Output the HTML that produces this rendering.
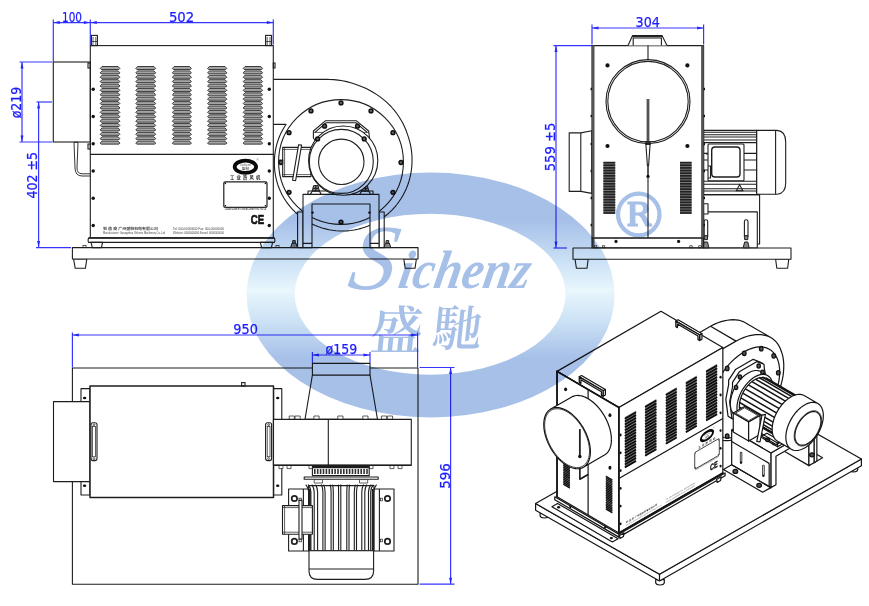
<!DOCTYPE html>
<html lang="zh"><head><meta charset="utf-8"><title>Sichenz 盛馳 工业热风机 外形尺寸图</title>
<style>
html,body{margin:0;padding:0;background:#fff;}
body{width:869px;height:606px;overflow:hidden;}
svg{display:block;}
.k{fill:none;stroke:#1e1e1e;stroke-width:1.1;}
.k2{fill:none;stroke:#1e1e1e;stroke-width:1.5;}
.kt{fill:none;stroke:#1e1e1e;stroke-width:.7;}
.kw{fill:#fff;stroke:#1e1e1e;stroke-width:1.1;stroke-linejoin:round;}
.kwt{fill:#fff;stroke:#1e1e1e;stroke-width:.7;stroke-linejoin:round;}
.d{fill:#111;stroke:none;}
.kg{fill:#888;stroke:#1e1e1e;stroke-width:1;stroke-linejoin:round;}
.ki{fill:none;stroke:#141414;stroke-width:1.2;stroke-linejoin:round;}
.kwi{fill:#fff;stroke:#141414;stroke-width:1.2;stroke-linejoin:round;}
.ki2{fill:none;stroke:#141414;stroke-width:1.7;stroke-linecap:round;}
.kf{fill:#858585;stroke:none;}
.kf2{fill:#777;stroke:none;}
.kit{fill:none;stroke:#141414;stroke-width:.8;}
.kbi{fill:#555;stroke:#111;stroke-width:1.3;}
.kb{fill:#666;stroke:#111;stroke-width:1.5;}
.g{fill:#a4a4a4;stroke:#222;stroke-width:.85;}
.b{fill:none;stroke:#3636ff;stroke-width:1.2;}
.ba{fill:#2626ff;stroke:none;}
.t{font-family:"DejaVu Sans","Liberation Sans",sans-serif;font-size:14.2px;fill:#1c1cff;stroke:#1c1cff;stroke-width:.25px;text-anchor:middle;}
.wm{fill:#a7c0e8;}
</style></head>
<body>
<svg width="869" height="606" viewBox="0 0 869 606">
<rect width="869" height="606" fill="#fff"/>
<path class="b" d="M53.3 19.5L53.3 61.5"/>
<path class="b" d="M90.3 19.5L90.3 45"/>
<path class="b" d="M273.3 19.5L273.3 44.5"/>
<path class="b" d="M53.3 22.6L90.3 22.6"/>
<path class="ba" d="M53.3 22.6L59.8 21.1L59.8 24.1Z"/>
<path class="ba" d="M90.3 22.6L83.8 24.1L83.8 21.1Z"/>
<path class="b" d="M90.3 22.6L273.3 22.6"/>
<path class="ba" d="M90.3 22.6L96.8 21.1L96.8 24.1Z"/>
<path class="ba" d="M273.3 22.6L266.8 24.1L266.8 21.1Z"/>
<text class="t" x="72" y="21.8" textLength="20" lengthAdjust="spacingAndGlyphs">100</text>
<text class="t" x="181.6" y="21.8" textLength="25.4" lengthAdjust="spacingAndGlyphs">502</text>
<path class="b" d="M19.5 62L52.4 62"/>
<path class="b" d="M19.5 142L52.4 142"/>
<path class="b" d="M22 62L22 142"/>
<path class="ba" d="M22 62L23.5 68.5L20.5 68.5Z"/>
<path class="ba" d="M22 142L20.5 135.5L23.5 135.5Z"/>
<text class="t" x="20.6" y="102.5" transform="rotate(-90 20.6 102.5)" textLength="31.6" lengthAdjust="spacingAndGlyphs">ø219</text>
<path class="b" d="M36.5 102L52 102"/>
<path class="b" d="M36 247.6L71 247.6"/>
<path class="b" d="M38.6 102L38.6 247.6"/>
<path class="ba" d="M38.6 102L40.1 108.5L37.1 108.5Z"/>
<path class="ba" d="M38.6 247.6L37.1 241.1L40.1 241.1Z"/>
<text class="t" x="37.1" y="175.2" transform="rotate(-90 37.1 175.2)" textLength="46.5" lengthAdjust="spacingAndGlyphs">402 ±5</text>
<path class="kw" d="M73.6 259L86.8 259L85.4 268.3L75.2 268.3Z"/>
<path class="kw" d="M403.8 259L416.4 259L415 268.3L405.2 268.3Z"/>
<rect class="kw" x="72.4" y="247.6" width="345.6" height="11.4"/>
<path class="kw" d="M273.3 124.4L286 124.4L285.79 124.76L283.91 127.7L282.2 130.73L280.64 133.85L279.25 137.05L278.03 140.32L276.98 143.64L276.11 147.02L275.41 150.44L274.9 153.88L274.56 157.35L274.41 160.84L274.39 164.33L274.52 167.82L274.84 171.3L275.34 174.76L276.02 178.2L276.88 181.6L277.92 184.96L279.13 188.26L280.52 191.5L282.07 194.66L283.8 197.74L285.68 200.74L287.72 203.63L289.91 206.41L292.25 209.08L294.72 211.62L297.33 214.04L300.07 216.32L302.92 218.45L305.89 220.44L308.96 222.26L312.12 223.93L315.37 225.43L318.7 226.76L322.1 227.92L325.56 228.89L329.06 229.69L332.61 230.3L336.19 230.73L339.8 230.96L343.41 231L347.02 230.85L350.63 230.5L354.21 229.97L357.77 229.25L361.28 228.35L364.75 227.26L368.16 225.99L371.5 224.54L374.76 222.91L377.94 221.12L381.02 219.16L384 217.04L386.87 214.76L389.61 212.34L392.23 209.77L394.71 207.07L397.05 204.23L399.24 201.28L401.27 198.21L403.14 195.04L404.84 191.77L406.38 188.41L407.73 184.98L408.91 181.47L409.9 177.91L410.7 174.29L411.32 170.63L411.74 166.95L411.97 163.24L412.04 159.52L411.93 155.79L411.63 152.07L411.14 148.37L410.45 144.68L409.56 141.04L408.49 137.44L407.28 133.87L406 130.3L404.52 126.79L402.86 123.35L401.01 119.98L398.97 116.71L396.76 113.53L394.37 110.46L391.83 107.49L389.14 104.63L386.28 101.91L383.27 99.33L380.12 96.9L376.82 94.63L373.44 92.43L369.93 90.41L366.29 88.56L362.54 86.89L358.68 85.42L354.74 84.07L350.73 82.76L346.62 81.65L342.42 80.76L338.14 80.09L333.8 79.65L329.4 79.45L328 79.4L273.3 79.4"/>
<circle class="k" cx="341" cy="162" r="62.4"/>
<circle class="kb" cx="401" cy="162.5" r="1.9"/>
<circle class="kb" cx="392.96" cy="192.3" r="1.9"/>
<circle class="kb" cx="341" cy="222.1" r="1.9"/>
<circle class="kb" cx="289.04" cy="192.3" r="1.9"/>
<circle class="kb" cx="281" cy="162.5" r="1.9"/>
<circle class="kb" cx="289.04" cy="132.7" r="1.9"/>
<circle class="kb" cx="311" cy="110.88" r="1.9"/>
<circle class="kb" cx="341" cy="102.9" r="1.9"/>
<circle class="kb" cx="371" cy="110.88" r="1.9"/>
<circle class="kb" cx="392.96" cy="132.7" r="1.9"/>
<rect class="kw" x="297.6" y="212" width="5.4" height="35.6"/>
<rect class="kw" x="379" y="212" width="5.2" height="35.6"/>
<path class="kw" d="M303 247.6V194.4H379V247.6H370V204H312V247.6Z"/>
<path class="k" d="M303 243.4H312M370 243.4H379"/>
<circle class="d" cx="312.6" cy="212.6" r="1.2"/>
<circle class="d" cx="369.4" cy="212.6" r="1.2"/>
<rect class="kw" x="308" y="191" width="65" height="3.4"/>
<path class="kg" d="M290.6 247.6L292 243.2L296 243.2L297.4 247.6Z"/>
<rect class="kg" x="292.7" y="240.6" width="2.6" height="2.6"/>
<path class="kg" d="M384 247.6L385.4 243.2L389.4 243.2L390.8 247.6Z"/>
<rect class="kg" x="386.1" y="240.6" width="2.6" height="2.6"/>
<path class="kg" d="M312.2 191L313.6 185.6L318 185.6L319.4 191Z"/>
<path class="k" d="M313.2 188.4L318.4 188.4"/>
<path class="k" d="M315.8 185.6L315.8 191"/>
<path class="k" d="M310.3 194.4L312.3 191L319.3 191L321.3 194.4"/>
<path class="kg" d="M361.6 191L363 185.6L367.4 185.6L368.8 191Z"/>
<path class="k" d="M362.6 188.4L367.8 188.4"/>
<path class="k" d="M365.2 185.6L365.2 191"/>
<path class="k" d="M359.7 194.4L361.7 191L368.7 191L370.7 194.4"/>
<rect class="kw" x="282.7" y="147.4" width="28.3" height="29.2"/>
<path class="kt" d="M284.6 147.4L284.6 176.6"/>
<path class="kt" d="M282.7 149.4L311 149.4"/>
<path class="kt" d="M282.7 174.6L311 174.6"/>
<path class="kw" d="M298.6 144.7L301.6 145.1L295.6 180.6L292.6 180.2Z"/>
<rect class="k" x="279.4" y="160.2" width="3.3" height="3.6"/>
<path class="kw" d="M313.4 138L313.4 131L325.3 120.8L356.5 120.8L368.7 131L369.5 138L365 143L317 143Z"/>
<path class="k" d="M315 132.4L326 122.8L356 122.8L367.2 132.4"/>
<path class="kt" d="M313.4 132.4L369 132.4"/>
<circle class="kw" cx="343.2" cy="160.6" r="34.6"/>
<circle class="k" cx="341.3" cy="161.4" r="32"/>
<circle class="k" cx="341.3" cy="161.8" r="22.7"/>
<circle class="kb" cx="324.6" cy="126.2" r="1.9"/>
<circle class="kb" cx="357.5" cy="126.2" r="1.9"/>
<circle class="kb" cx="317.6" cy="138.9" r="1.9"/>
<circle class="kb" cx="364.2" cy="138.9" r="1.9"/>
<rect class="k" x="90.3" y="45.6" width="183" height="192.4"/>
<path class="k" d="M90.3 154.4L273.3 154.4"/>
<rect class="k" x="91.4" y="35.4" width="6" height="10.2"/>
<path class="kt" d="M93 37L93 45.6"/>
<path class="kt" d="M95.8 37L95.8 45.6"/>
<path class="kt" d="M91.4 41.5L97.4 41.5"/>
<rect class="k" x="265.6" y="35.4" width="6" height="10.2"/>
<path class="kt" d="M267.2 37L267.2 45.6"/>
<path class="kt" d="M270 37L270 45.6"/>
<path class="kt" d="M265.6 41.5L271.6 41.5"/>
<rect class="k" x="53.3" y="62" width="37" height="80"/>
<rect class="k" x="88" y="63" width="2.3" height="5"/>
<rect class="k" x="88" y="144" width="2.3" height="5"/>
<rect class="k" x="273.3" y="63" width="1.7" height="5"/>
<path class="k" d="M74 142.3L75 168Q75.3 176 82 176H90.3M78 142.3L77 168Q77 173.6 82 173.8H90.3M74 142.3H78" style="stroke-width:.9"/>
<path class="g" d="M102 66.5L118.1 66.5L119.9 68.5L118.9 69.5L101.2 69.5L100.2 68.5Z"/>
<path class="g" d="M102 70.89L118.1 70.89L119.9 72.89L118.9 73.89L101.2 73.89L100.2 72.89Z"/>
<path class="g" d="M102 75.28L118.1 75.28L119.9 77.28L118.9 78.28L101.2 78.28L100.2 77.28Z"/>
<path class="g" d="M102 79.67L118.1 79.67L119.9 81.67L118.9 82.67L101.2 82.67L100.2 81.67Z"/>
<path class="g" d="M102 84.06L118.1 84.06L119.9 86.06L118.9 87.06L101.2 87.06L100.2 86.06Z"/>
<path class="g" d="M102 88.45L118.1 88.45L119.9 90.45L118.9 91.45L101.2 91.45L100.2 90.45Z"/>
<path class="g" d="M102 92.84L118.1 92.84L119.9 94.84L118.9 95.84L101.2 95.84L100.2 94.84Z"/>
<path class="g" d="M102 97.23L118.1 97.23L119.9 99.23L118.9 100.23L101.2 100.23L100.2 99.23Z"/>
<path class="g" d="M102 101.62L118.1 101.62L119.9 103.62L118.9 104.62L101.2 104.62L100.2 103.62Z"/>
<path class="g" d="M102 106.01L118.1 106.01L119.9 108.01L118.9 109.01L101.2 109.01L100.2 108.01Z"/>
<path class="g" d="M102 110.4L118.1 110.4L119.9 112.4L118.9 113.4L101.2 113.4L100.2 112.4Z"/>
<path class="g" d="M102 114.79L118.1 114.79L119.9 116.79L118.9 117.79L101.2 117.79L100.2 116.79Z"/>
<path class="g" d="M102 119.18L118.1 119.18L119.9 121.18L118.9 122.18L101.2 122.18L100.2 121.18Z"/>
<path class="g" d="M102 123.57L118.1 123.57L119.9 125.57L118.9 126.57L101.2 126.57L100.2 125.57Z"/>
<path class="g" d="M102 127.96L118.1 127.96L119.9 129.96L118.9 130.96L101.2 130.96L100.2 129.96Z"/>
<path class="g" d="M102 132.35L118.1 132.35L119.9 134.35L118.9 135.35L101.2 135.35L100.2 134.35Z"/>
<path class="g" d="M102 136.74L118.1 136.74L119.9 138.74L118.9 139.74L101.2 139.74L100.2 138.74Z"/>
<path class="g" d="M102 141.13L118.1 141.13L119.9 143.13L118.9 144.13L101.2 144.13L100.2 143.13Z"/>
<path class="g" d="M137.6 66.5L153.9 66.5L155.7 68.5L154.7 69.5L136.8 69.5L135.8 68.5Z"/>
<path class="g" d="M137.6 70.89L153.9 70.89L155.7 72.89L154.7 73.89L136.8 73.89L135.8 72.89Z"/>
<path class="g" d="M137.6 75.28L153.9 75.28L155.7 77.28L154.7 78.28L136.8 78.28L135.8 77.28Z"/>
<path class="g" d="M137.6 79.67L153.9 79.67L155.7 81.67L154.7 82.67L136.8 82.67L135.8 81.67Z"/>
<path class="g" d="M137.6 84.06L153.9 84.06L155.7 86.06L154.7 87.06L136.8 87.06L135.8 86.06Z"/>
<path class="g" d="M137.6 88.45L153.9 88.45L155.7 90.45L154.7 91.45L136.8 91.45L135.8 90.45Z"/>
<path class="g" d="M137.6 92.84L153.9 92.84L155.7 94.84L154.7 95.84L136.8 95.84L135.8 94.84Z"/>
<path class="g" d="M137.6 97.23L153.9 97.23L155.7 99.23L154.7 100.23L136.8 100.23L135.8 99.23Z"/>
<path class="g" d="M137.6 101.62L153.9 101.62L155.7 103.62L154.7 104.62L136.8 104.62L135.8 103.62Z"/>
<path class="g" d="M137.6 106.01L153.9 106.01L155.7 108.01L154.7 109.01L136.8 109.01L135.8 108.01Z"/>
<path class="g" d="M137.6 110.4L153.9 110.4L155.7 112.4L154.7 113.4L136.8 113.4L135.8 112.4Z"/>
<path class="g" d="M137.6 114.79L153.9 114.79L155.7 116.79L154.7 117.79L136.8 117.79L135.8 116.79Z"/>
<path class="g" d="M137.6 119.18L153.9 119.18L155.7 121.18L154.7 122.18L136.8 122.18L135.8 121.18Z"/>
<path class="g" d="M137.6 123.57L153.9 123.57L155.7 125.57L154.7 126.57L136.8 126.57L135.8 125.57Z"/>
<path class="g" d="M137.6 127.96L153.9 127.96L155.7 129.96L154.7 130.96L136.8 130.96L135.8 129.96Z"/>
<path class="g" d="M137.6 132.35L153.9 132.35L155.7 134.35L154.7 135.35L136.8 135.35L135.8 134.35Z"/>
<path class="g" d="M137.6 136.74L153.9 136.74L155.7 138.74L154.7 139.74L136.8 139.74L135.8 138.74Z"/>
<path class="g" d="M137.6 141.13L153.9 141.13L155.7 143.13L154.7 144.13L136.8 144.13L135.8 143.13Z"/>
<path class="g" d="M174.2 66.5L189.6 66.5L191.4 68.5L190.4 69.5L173.4 69.5L172.4 68.5Z"/>
<path class="g" d="M174.2 70.89L189.6 70.89L191.4 72.89L190.4 73.89L173.4 73.89L172.4 72.89Z"/>
<path class="g" d="M174.2 75.28L189.6 75.28L191.4 77.28L190.4 78.28L173.4 78.28L172.4 77.28Z"/>
<path class="g" d="M174.2 79.67L189.6 79.67L191.4 81.67L190.4 82.67L173.4 82.67L172.4 81.67Z"/>
<path class="g" d="M174.2 84.06L189.6 84.06L191.4 86.06L190.4 87.06L173.4 87.06L172.4 86.06Z"/>
<path class="g" d="M174.2 88.45L189.6 88.45L191.4 90.45L190.4 91.45L173.4 91.45L172.4 90.45Z"/>
<path class="g" d="M174.2 92.84L189.6 92.84L191.4 94.84L190.4 95.84L173.4 95.84L172.4 94.84Z"/>
<path class="g" d="M174.2 97.23L189.6 97.23L191.4 99.23L190.4 100.23L173.4 100.23L172.4 99.23Z"/>
<path class="g" d="M174.2 101.62L189.6 101.62L191.4 103.62L190.4 104.62L173.4 104.62L172.4 103.62Z"/>
<path class="g" d="M174.2 106.01L189.6 106.01L191.4 108.01L190.4 109.01L173.4 109.01L172.4 108.01Z"/>
<path class="g" d="M174.2 110.4L189.6 110.4L191.4 112.4L190.4 113.4L173.4 113.4L172.4 112.4Z"/>
<path class="g" d="M174.2 114.79L189.6 114.79L191.4 116.79L190.4 117.79L173.4 117.79L172.4 116.79Z"/>
<path class="g" d="M174.2 119.18L189.6 119.18L191.4 121.18L190.4 122.18L173.4 122.18L172.4 121.18Z"/>
<path class="g" d="M174.2 123.57L189.6 123.57L191.4 125.57L190.4 126.57L173.4 126.57L172.4 125.57Z"/>
<path class="g" d="M174.2 127.96L189.6 127.96L191.4 129.96L190.4 130.96L173.4 130.96L172.4 129.96Z"/>
<path class="g" d="M174.2 132.35L189.6 132.35L191.4 134.35L190.4 135.35L173.4 135.35L172.4 134.35Z"/>
<path class="g" d="M174.2 136.74L189.6 136.74L191.4 138.74L190.4 139.74L173.4 139.74L172.4 138.74Z"/>
<path class="g" d="M174.2 141.13L189.6 141.13L191.4 143.13L190.4 144.13L173.4 144.13L172.4 143.13Z"/>
<path class="g" d="M209.4 66.5L225 66.5L226.8 68.5L225.8 69.5L208.6 69.5L207.6 68.5Z"/>
<path class="g" d="M209.4 70.89L225 70.89L226.8 72.89L225.8 73.89L208.6 73.89L207.6 72.89Z"/>
<path class="g" d="M209.4 75.28L225 75.28L226.8 77.28L225.8 78.28L208.6 78.28L207.6 77.28Z"/>
<path class="g" d="M209.4 79.67L225 79.67L226.8 81.67L225.8 82.67L208.6 82.67L207.6 81.67Z"/>
<path class="g" d="M209.4 84.06L225 84.06L226.8 86.06L225.8 87.06L208.6 87.06L207.6 86.06Z"/>
<path class="g" d="M209.4 88.45L225 88.45L226.8 90.45L225.8 91.45L208.6 91.45L207.6 90.45Z"/>
<path class="g" d="M209.4 92.84L225 92.84L226.8 94.84L225.8 95.84L208.6 95.84L207.6 94.84Z"/>
<path class="g" d="M209.4 97.23L225 97.23L226.8 99.23L225.8 100.23L208.6 100.23L207.6 99.23Z"/>
<path class="g" d="M209.4 101.62L225 101.62L226.8 103.62L225.8 104.62L208.6 104.62L207.6 103.62Z"/>
<path class="g" d="M209.4 106.01L225 106.01L226.8 108.01L225.8 109.01L208.6 109.01L207.6 108.01Z"/>
<path class="g" d="M209.4 110.4L225 110.4L226.8 112.4L225.8 113.4L208.6 113.4L207.6 112.4Z"/>
<path class="g" d="M209.4 114.79L225 114.79L226.8 116.79L225.8 117.79L208.6 117.79L207.6 116.79Z"/>
<path class="g" d="M209.4 119.18L225 119.18L226.8 121.18L225.8 122.18L208.6 122.18L207.6 121.18Z"/>
<path class="g" d="M209.4 123.57L225 123.57L226.8 125.57L225.8 126.57L208.6 126.57L207.6 125.57Z"/>
<path class="g" d="M209.4 127.96L225 127.96L226.8 129.96L225.8 130.96L208.6 130.96L207.6 129.96Z"/>
<path class="g" d="M209.4 132.35L225 132.35L226.8 134.35L225.8 135.35L208.6 135.35L207.6 134.35Z"/>
<path class="g" d="M209.4 136.74L225 136.74L226.8 138.74L225.8 139.74L208.6 139.74L207.6 138.74Z"/>
<path class="g" d="M209.4 141.13L225 141.13L226.8 143.13L225.8 144.13L208.6 144.13L207.6 143.13Z"/>
<path class="g" d="M245 66.5L260.8 66.5L262.6 68.5L261.6 69.5L244.2 69.5L243.2 68.5Z"/>
<path class="g" d="M245 70.89L260.8 70.89L262.6 72.89L261.6 73.89L244.2 73.89L243.2 72.89Z"/>
<path class="g" d="M245 75.28L260.8 75.28L262.6 77.28L261.6 78.28L244.2 78.28L243.2 77.28Z"/>
<path class="g" d="M245 79.67L260.8 79.67L262.6 81.67L261.6 82.67L244.2 82.67L243.2 81.67Z"/>
<path class="g" d="M245 84.06L260.8 84.06L262.6 86.06L261.6 87.06L244.2 87.06L243.2 86.06Z"/>
<path class="g" d="M245 88.45L260.8 88.45L262.6 90.45L261.6 91.45L244.2 91.45L243.2 90.45Z"/>
<path class="g" d="M245 92.84L260.8 92.84L262.6 94.84L261.6 95.84L244.2 95.84L243.2 94.84Z"/>
<path class="g" d="M245 97.23L260.8 97.23L262.6 99.23L261.6 100.23L244.2 100.23L243.2 99.23Z"/>
<path class="g" d="M245 101.62L260.8 101.62L262.6 103.62L261.6 104.62L244.2 104.62L243.2 103.62Z"/>
<path class="g" d="M245 106.01L260.8 106.01L262.6 108.01L261.6 109.01L244.2 109.01L243.2 108.01Z"/>
<path class="g" d="M245 110.4L260.8 110.4L262.6 112.4L261.6 113.4L244.2 113.4L243.2 112.4Z"/>
<path class="g" d="M245 114.79L260.8 114.79L262.6 116.79L261.6 117.79L244.2 117.79L243.2 116.79Z"/>
<path class="g" d="M245 119.18L260.8 119.18L262.6 121.18L261.6 122.18L244.2 122.18L243.2 121.18Z"/>
<path class="g" d="M245 123.57L260.8 123.57L262.6 125.57L261.6 126.57L244.2 126.57L243.2 125.57Z"/>
<path class="g" d="M245 127.96L260.8 127.96L262.6 129.96L261.6 130.96L244.2 130.96L243.2 129.96Z"/>
<path class="g" d="M245 132.35L260.8 132.35L262.6 134.35L261.6 135.35L244.2 135.35L243.2 134.35Z"/>
<path class="g" d="M245 136.74L260.8 136.74L262.6 138.74L261.6 139.74L244.2 139.74L243.2 138.74Z"/>
<path class="g" d="M245 141.13L260.8 141.13L262.6 143.13L261.6 144.13L244.2 144.13L243.2 143.13Z"/>
<circle class="d" cx="93.2" cy="89.2" r="1.7"/>
<circle class="d" cx="269.3" cy="89.2" r="1.7"/>
<circle class="d" cx="93.2" cy="116.5" r="1.7"/>
<circle class="d" cx="269.3" cy="116.5" r="1.7"/>
<circle class="d" cx="93.2" cy="143.8" r="1.7"/>
<circle class="d" cx="269.3" cy="143.8" r="1.7"/>
<circle class="d" cx="93.2" cy="171" r="1.7"/>
<circle class="d" cx="269.3" cy="171" r="1.7"/>
<circle class="d" cx="93.2" cy="198.2" r="1.7"/>
<circle class="d" cx="269.3" cy="198.2" r="1.7"/>
<circle class="d" cx="93.2" cy="225.5" r="1.7"/>
<circle class="d" cx="269.3" cy="225.5" r="1.7"/>
<path class="kw" d="M88.6 238H274.4Q275.4 240.2 274.4 242.4H88.6Q87.6 240.2 88.6 238Z"/>
<path class="k2" d="M88.6 238L274.4 238"/>
<path class="kw" d="M91 242.4L102.6 242.4L101.4 247.6L92.4 247.6Z"/>
<path class="kw" d="M260.4 242.4L272.6 242.4L271.4 247.6L261.6 247.6Z"/>
<rect class="kt" x="83" y="245.4" width="3" height="2.2"/>
<rect class="kt" x="276" y="245.4" width="3" height="2.2"/>
<ellipse class="k" cx="245.4" cy="166.8" rx="10.7" ry="6.1" style="stroke-width:3.8;stroke:#0a0a0a"/>
<text x="245.4" y="165.6" text-anchor="middle" style="font-family:'Liberation Serif',serif;font-style:italic;font-size:3.6px;fill:#555">Sichenz</text>
<text x="245.4" y="169.6" text-anchor="middle" style="font-family:'Liberation Sans','Noto Sans CJK SC',sans-serif;font-size:3.6px;fill:#333">盛馳</text>
<text x="257.6" y="161" text-anchor="middle" style="font-family:'Liberation Sans',sans-serif;font-size:3px;fill:#555">®</text>
<text x="246.2" y="179.4" text-anchor="middle" style="font-family:'Liberation Sans','Noto Sans CJK SC',sans-serif;font-weight:bold;font-size:4.3px;letter-spacing:2.2px;fill:#222">工业热风机</text>
<rect class="k" x="223.8" y="181.8" width="43.2" height="25.6" rx="1.4" style="stroke-width:1.2"/>
<circle class="d" cx="225.4" cy="183.4" r="0.8"/>
<circle class="d" cx="265.4" cy="183.4" r="0.8"/>
<circle class="d" cx="225.4" cy="205.8" r="0.8"/>
<circle class="d" cx="265.4" cy="205.8" r="0.8"/>
<text x="224.8" y="210" textLength="41.6" lengthAdjust="spacingAndGlyphs" style="font-family:'Liberation Sans',sans-serif;font-weight:bold;font-size:2.6px;fill:#444">CLEAN ZONE HOT AIR BLOWER PRO. NO.CE</text>
<text x="257.4" y="223.6" text-anchor="middle" textLength="13.4" lengthAdjust="spacingAndGlyphs" style="font-family:'Liberation Sans',sans-serif;font-weight:bold;font-size:13.5px;fill:#111;stroke:#111;stroke-width:.7;stroke-linejoin:round">CE</text>
<text x="103" y="229.6" textLength="55" lengthAdjust="spacingAndGlyphs" style="font-family:'Liberation Sans','Noto Sans CJK SC',sans-serif;font-weight:bold;font-size:3.6px;fill:#444">制 造 商 广州盛馳机电有限公司</text>
<text x="103" y="233.8" textLength="62" lengthAdjust="spacingAndGlyphs" style="font-family:'Liberation Sans',sans-serif;font-size:2.6px;fill:#444">Manufacturer: Guangzhou Sichenz Machinery Co.,Ltd</text>
<text x="173" y="229.6" textLength="51" lengthAdjust="spacingAndGlyphs" style="font-family:'Liberation Sans',sans-serif;font-size:2.6px;fill:#444">Tel: 000-00000000   Fax: 000-00000000</text>
<text x="173" y="233.8" textLength="51" lengthAdjust="spacingAndGlyphs" style="font-family:'Liberation Sans',sans-serif;font-size:2.6px;fill:#444">Website: 0000000000   E-mail: 0000000000</text>
<path class="b" d="M592 24.5L592 44.5"/>
<path class="b" d="M703.6 24.5L703.6 44.5"/>
<path class="b" d="M592 28L703.6 28"/>
<path class="ba" d="M592 28L598.5 26.5L598.5 29.5Z"/>
<path class="ba" d="M703.6 28L697.1 29.5L697.1 26.5Z"/>
<text class="t" x="647.8" y="27.2" textLength="24.4" lengthAdjust="spacingAndGlyphs">304</text>
<path class="b" d="M553.4 45.6L592 45.6"/>
<path class="b" d="M553.4 248L567 248"/>
<path class="b" d="M556 45.6L556 248"/>
<path class="ba" d="M556 45.6L557.5 52.1L554.5 52.1Z"/>
<path class="ba" d="M556 248L554.5 241.5L557.5 241.5Z"/>
<text class="t" x="555.2" y="147" transform="rotate(-90 555.2 147)" textLength="48.5" lengthAdjust="spacingAndGlyphs">559 ±5</text>
<path class="kw" d="M575 259L588.2 259L587 268.2L576.4 268.2Z"/>
<path class="kw" d="M775.6 259L788.8 259L787.6 268.2L776.8 268.2Z"/>
<rect class="kw" x="573" y="248" width="218" height="11.2"/>
<path class="kw" d="M591.8 130.8L580.8 132.9L569.2 132.9L569.2 191.4L580.8 191.4L591.8 193.4Z"/>
<path class="k" d="M580.8 132.9L580.8 191.4"/>
<path class="kw" d="M756.6 130.4H777Q785.7 131 785.7 142V183Q785.7 193.6 777 194.2H756.6Z"/>
<path class="k" d="M775.6 130.4L775.6 194.2"/>
<rect class="kw" x="703.6" y="130.4" width="53" height="64.2"/>
<path class="k" d="M703.6 132.2L756.6 132.2"/>
<path class="k" d="M703.6 134.8L756.6 134.8"/>
<path class="k" d="M703.6 137L756.6 137"/>
<path class="k" d="M703.6 140L756.6 140"/>
<path class="k" d="M703.6 142.6L756.6 142.6"/>
<path class="k" d="M703.6 153.4L756.6 153.4"/>
<path class="k" d="M703.6 160L756.6 160"/>
<path class="k" d="M703.6 170L756.6 170"/>
<path class="k" d="M703.6 181.2L756.6 181.2"/>
<path class="k" d="M703.6 184.2L756.6 184.2"/>
<path class="k" d="M703.6 188.7L756.6 188.7"/>
<path class="k" d="M703.6 191L756.6 191"/>
<rect class="kw" x="708" y="144" width="36" height="36.8" rx="1"/>
<rect class="k" x="711.7" y="147" width="28.3" height="30" rx="3.2" style="stroke-width:1.4"/>
<path class="k" d="M706 154L708 154"/>
<path class="k" d="M708 166H710.5V178H708"/>
<path class="k" d="M736.4 190.8L739.6 184.6L742.8 190.8Z"/>
<path class="kw" d="M703.6 194.6H759.6V244H757.3"/>
<rect class="kw" x="703.6" y="211.9" width="53.7" height="35.9"/>
<path class="k" d="M703.6 194.6L759.6 194.6"/>
<rect class="kw" x="703.6" y="203.7" width="4.4" height="10.3"/>
<path class="k" d="M704.1 237V221.6a1.8 1.8 0 0 1 3.6 0V237"/>
<rect class="kg" x="704.3" y="235.6" width="3.2" height="4"/>
<path class="kg" d="M702.9 247.8L704.3 242L707.5 242L708.9 247.8Z"/>
<path class="k" d="M744.4 237V221.6a1.8 1.8 0 0 1 3.6 0V237"/>
<rect class="kg" x="744.6" y="235.6" width="3.2" height="4"/>
<path class="kg" d="M743.2 247.8L744.6 242L747.8 242L749.2 247.8Z"/>
<rect class="kw" x="592" y="45.6" width="111.6" height="192.4"/>
<path d="M593.2 45.6V247M702.4 45.6V247" fill="none" stroke="#555" stroke-width="2.6"/>
<rect class="k" x="592" y="238" width="111.6" height="9.8"/>
<path class="kw" d="M628 45.6L632.6 35.6L662 35.6L667 45.6"/>
<path class="k" d="M633.2 45.6L633.2 38L661.4 38L661.4 45.6"/>
<path class="k" d="M632 36.6L662.4 36.6"/>
<path class="k" d="M648 45.6L648 60"/>
<path class="k" d="M648 176L648 238"/>
<circle class="k" cx="648" cy="101.6" r="42"/>
<circle class="k" cx="648" cy="101.6" r="40.2"/>
<path d="M648 99V143" fill="none" stroke="#555" stroke-width="2.8"/>
<path class="k" d="M645.8 143L650.2 143L648.6 165.5L647.4 165.5Z"/>
<rect class="k" x="646" y="141.6" width="4" height="2.8"/>
<path class="k2" d="M648 165.5L648 176"/>
<circle class="d" cx="648" cy="176.4" r="1.6"/>
<circle class="d" cx="607.5" cy="65.4" r="2.1"/>
<circle class="d" cx="687.4" cy="65.4" r="2.1"/>
<circle class="d" cx="607.5" cy="146" r="2.1"/>
<circle class="d" cx="687.4" cy="146" r="2.1"/>
<circle class="d" cx="616" cy="241.4" r="1.6"/>
<circle class="d" cx="678.6" cy="241.4" r="1.6"/>
<rect class="kf2" x="603.4" y="162" width="11.8" height="51.6"/>
<path d="M603.4 162.6H615.2" stroke="#222" stroke-width="1.7" fill="none"/>
<path d="M603.4 165.25H615.2" stroke="#222" stroke-width="1.7" fill="none"/>
<path d="M603.4 167.91H615.2" stroke="#222" stroke-width="1.7" fill="none"/>
<path d="M603.4 170.56H615.2" stroke="#222" stroke-width="1.7" fill="none"/>
<path d="M603.4 173.21H615.2" stroke="#222" stroke-width="1.7" fill="none"/>
<path d="M603.4 175.86H615.2" stroke="#222" stroke-width="1.7" fill="none"/>
<path d="M603.4 178.52H615.2" stroke="#222" stroke-width="1.7" fill="none"/>
<path d="M603.4 181.17H615.2" stroke="#222" stroke-width="1.7" fill="none"/>
<path d="M603.4 183.82H615.2" stroke="#222" stroke-width="1.7" fill="none"/>
<path d="M603.4 186.47H615.2" stroke="#222" stroke-width="1.7" fill="none"/>
<path d="M603.4 189.13H615.2" stroke="#222" stroke-width="1.7" fill="none"/>
<path d="M603.4 191.78H615.2" stroke="#222" stroke-width="1.7" fill="none"/>
<path d="M603.4 194.43H615.2" stroke="#222" stroke-width="1.7" fill="none"/>
<path d="M603.4 197.08H615.2" stroke="#222" stroke-width="1.7" fill="none"/>
<path d="M603.4 199.74H615.2" stroke="#222" stroke-width="1.7" fill="none"/>
<path d="M603.4 202.39H615.2" stroke="#222" stroke-width="1.7" fill="none"/>
<path d="M603.4 205.04H615.2" stroke="#222" stroke-width="1.7" fill="none"/>
<path d="M603.4 207.69H615.2" stroke="#222" stroke-width="1.7" fill="none"/>
<path d="M603.4 210.35H615.2" stroke="#222" stroke-width="1.7" fill="none"/>
<path d="M603.4 213H615.2" stroke="#222" stroke-width="1.7" fill="none"/>
<rect class="kf2" x="680" y="162" width="11.6" height="51.6"/>
<path d="M680 162.6H691.6" stroke="#222" stroke-width="1.7" fill="none"/>
<path d="M680 165.25H691.6" stroke="#222" stroke-width="1.7" fill="none"/>
<path d="M680 167.91H691.6" stroke="#222" stroke-width="1.7" fill="none"/>
<path d="M680 170.56H691.6" stroke="#222" stroke-width="1.7" fill="none"/>
<path d="M680 173.21H691.6" stroke="#222" stroke-width="1.7" fill="none"/>
<path d="M680 175.86H691.6" stroke="#222" stroke-width="1.7" fill="none"/>
<path d="M680 178.52H691.6" stroke="#222" stroke-width="1.7" fill="none"/>
<path d="M680 181.17H691.6" stroke="#222" stroke-width="1.7" fill="none"/>
<path d="M680 183.82H691.6" stroke="#222" stroke-width="1.7" fill="none"/>
<path d="M680 186.47H691.6" stroke="#222" stroke-width="1.7" fill="none"/>
<path d="M680 189.13H691.6" stroke="#222" stroke-width="1.7" fill="none"/>
<path d="M680 191.78H691.6" stroke="#222" stroke-width="1.7" fill="none"/>
<path d="M680 194.43H691.6" stroke="#222" stroke-width="1.7" fill="none"/>
<path d="M680 197.08H691.6" stroke="#222" stroke-width="1.7" fill="none"/>
<path d="M680 199.74H691.6" stroke="#222" stroke-width="1.7" fill="none"/>
<path d="M680 202.39H691.6" stroke="#222" stroke-width="1.7" fill="none"/>
<path d="M680 205.04H691.6" stroke="#222" stroke-width="1.7" fill="none"/>
<path d="M680 207.69H691.6" stroke="#222" stroke-width="1.7" fill="none"/>
<path d="M680 210.35H691.6" stroke="#222" stroke-width="1.7" fill="none"/>
<path d="M680 213H691.6" stroke="#222" stroke-width="1.7" fill="none"/>
<rect class="d" x="590.6" y="87.8" width="1.4" height="2.4"/>
<rect class="d" x="703.6" y="87.8" width="1.4" height="2.4"/>
<rect class="d" x="590.6" y="114.8" width="1.4" height="2.4"/>
<rect class="d" x="703.6" y="114.8" width="1.4" height="2.4"/>
<rect class="d" x="590.6" y="142.8" width="1.4" height="2.4"/>
<rect class="d" x="703.6" y="142.8" width="1.4" height="2.4"/>
<rect class="d" x="590.6" y="169.8" width="1.4" height="2.4"/>
<rect class="d" x="703.6" y="169.8" width="1.4" height="2.4"/>
<rect class="d" x="590.6" y="196.8" width="1.4" height="2.4"/>
<rect class="d" x="703.6" y="196.8" width="1.4" height="2.4"/>
<rect class="d" x="590.6" y="223.8" width="1.4" height="2.4"/>
<rect class="d" x="703.6" y="223.8" width="1.4" height="2.4"/>
<rect class="kt" x="594.4" y="245.8" width="2.4" height="2"/>
<rect class="kt" x="602.4" y="245.8" width="2.4" height="2"/>
<rect class="kt" x="689.8" y="245.8" width="2.4" height="2"/>
<rect class="kt" x="698.8" y="245.8" width="2.4" height="2"/>
<path class="b" d="M72.4 332.5L72.4 367.4"/>
<path class="b" d="M417.6 332.5L417.6 367.4"/>
<path class="b" d="M72.4 335L417.6 335"/>
<path class="ba" d="M72.4 335L78.9 333.5L78.9 336.5Z"/>
<path class="ba" d="M417.6 335L411.1 336.5L411.1 333.5Z"/>
<text class="t" x="245.6" y="334.2" textLength="24.6" lengthAdjust="spacingAndGlyphs">950</text>
<path class="b" d="M312.4 352L312.4 363"/>
<path class="b" d="M370 352L370 363"/>
<path class="b" d="M312.4 355L370 355"/>
<path class="ba" d="M312.4 355L318.9 353.5L318.9 356.5Z"/>
<path class="ba" d="M370 355L363.5 356.5L363.5 353.5Z"/>
<text class="t" x="341.4" y="354.2" textLength="31.6" lengthAdjust="spacingAndGlyphs">ø159</text>
<path class="b" d="M419.6 367.5L454.5 367.5"/>
<path class="b" d="M419.6 584.2L454.5 584.2"/>
<path class="b" d="M450.6 367.5L450.6 584.2"/>
<path class="ba" d="M450.6 367.5L452.1 374L449.1 374Z"/>
<path class="ba" d="M450.6 584.2L449.1 577.7L452.1 577.7Z"/>
<text class="t" x="449.8" y="476" transform="rotate(-90 449.8 476)" textLength="25.6" lengthAdjust="spacingAndGlyphs">596</text>
<rect class="kw" x="72.4" y="368" width="345.6" height="216.3"/>
<rect class="kw" x="81" y="388.6" width="9" height="106.4"/>
<rect class="kw" x="273.5" y="388.6" width="8.3" height="106.4"/>
<ellipse class="d" cx="84.6" cy="398" rx="1.7" ry="1.3"/>
<ellipse class="d" cx="84.6" cy="485.7" rx="1.7" ry="1.3"/>
<ellipse class="d" cx="277.7" cy="398" rx="1.7" ry="1.3"/>
<ellipse class="d" cx="277.7" cy="485.7" rx="1.7" ry="1.3"/>
<rect class="kw" x="53.5" y="401.6" width="36.5" height="80"/>
<rect class="kw" x="90" y="386" width="183.5" height="111.5" style="stroke-width:1.5"/>
<rect class="k" x="241.6" y="382.6" width="3.4" height="3.4"/>
<rect class="kw" x="91" y="422.8" width="6" height="37.8" rx="2"/>
<rect class="kt" x="92.6" y="426.6" width="2.8" height="30.2"/>
<circle class="kt" cx="94" cy="424.8" r="0.9"/>
<circle class="kt" cx="94" cy="458.6" r="0.9"/>
<rect class="kw" x="265.6" y="422.8" width="6" height="37.8" rx="2"/>
<rect class="kt" x="267.2" y="426.6" width="2.8" height="30.2"/>
<circle class="kt" cx="268.6" cy="424.8" r="0.9"/>
<circle class="kt" cx="268.6" cy="458.6" r="0.9"/>
<path class="kw" d="M312.4 375L305 419.4L377.5 419.4L370 375Z"/>
<rect class="kw" x="312.4" y="363.4" width="57.6" height="11.6"/>
<rect class="kwt" x="289.2" y="416" width="5.2" height="3.4"/>
<rect class="kwt" x="295" y="416" width="5.2" height="3.4"/>
<rect class="kwt" x="313.9" y="416" width="5.2" height="3.4"/>
<rect class="kwt" x="337.8" y="416" width="5.2" height="3.4"/>
<rect class="kwt" x="362.8" y="416" width="5.2" height="3.4"/>
<rect class="kwt" x="381.4" y="416" width="5.2" height="3.4"/>
<rect class="kwt" x="387.4" y="416" width="5.2" height="3.4"/>
<rect class="kwt" x="279" y="465.4" width="4" height="3.2"/>
<rect class="kwt" x="287" y="465.4" width="4" height="3.2"/>
<rect class="kwt" x="309" y="465.4" width="4" height="3.2"/>
<rect class="kwt" x="338.2" y="465.4" width="4" height="3.2"/>
<rect class="kwt" x="369" y="465.4" width="4" height="3.2"/>
<rect class="kwt" x="390" y="465.4" width="4" height="3.2"/>
<rect class="kwt" x="398" y="465.4" width="4" height="3.2"/>
<rect class="kw" x="273.5" y="419.4" width="137.8" height="45.9"/>
<path class="k2" d="M273.5 465.3L411.3 465.3"/>
<path class="k" d="M328.3 419.4L328.3 465.3"/>
<rect class="kw" x="312.4" y="466.4" width="56.8" height="9.2"/>
<path d="M314 471.4H368" stroke="#333" stroke-width="5" stroke-dasharray="1.6 1.3" fill="none"/>
<path class="k2" d="M312.4 467.4L369.2 467.4"/>
<rect class="kw" x="304.2" y="477" width="74" height="2.3"/>
<rect class="kwt" x="314.2" y="479.6" width="8.4" height="3.4"/>
<rect class="kwt" x="359.5" y="479.6" width="8.2" height="3.4"/>
<rect class="kw" x="288.6" y="489" width="105.4" height="62"/>
<path class="k" d="M303.4 489L303.4 551"/>
<path class="k" d="M379.4 489L379.4 551"/>
<circle class="k" cx="294.4" cy="498.5" r="2.7" style="stroke-width:1.7"/>
<circle class="k" cx="294.4" cy="541.4" r="2.7" style="stroke-width:1.7"/>
<circle class="k" cx="387.5" cy="498.5" r="2.7" style="stroke-width:1.7"/>
<circle class="k" cx="387.5" cy="541.4" r="2.7" style="stroke-width:1.7"/>
<rect class="kt" x="299" y="498.2" width="2.4" height="2.6"/>
<rect class="kt" x="380.4" y="498.2" width="2.2" height="2.6"/>
<rect class="kt" x="299" y="539.2" width="2.4" height="2.6"/>
<rect class="kt" x="380.4" y="539.2" width="2.2" height="2.6"/>
<rect class="kw" x="308.6" y="485.6" width="65.4" height="65.2"/>
<path class="k" d="M305.83 484.6Q308.7 488 308.7 492V550.8"/>
<path class="k" d="M308.22 484.6Q310.9 488 310.9 492V550.8"/>
<path class="k" d="M311.82 484.6Q314.2 488 314.2 492V550.8"/>
<path class="k" d="M315.51 484.6Q317.6 488 317.6 492V550.8"/>
<path class="k" d="M321.28 484.6Q322.9 488 322.9 492V550.8"/>
<path class="k" d="M323.67 484.6Q325.1 488 325.1 492V550.8"/>
<path class="k" d="M330.2 484.6Q331.1 488 331.1 492V550.8"/>
<path class="k" d="M332.6 484.6Q333.3 488 333.3 492V550.8"/>
<path class="k" d="M338.36 484.6Q338.6 488 338.6 492V550.8"/>
<path class="k" d="M340.76 484.6Q340.8 488 340.8 492V550.8"/>
<path class="k" d="M347.28 484.6Q346.8 488 346.8 492V550.8"/>
<path class="k" d="M349.68 484.6Q349 488 349 492V550.8"/>
<path class="k" d="M355.44 484.6Q354.3 488 354.3 492V550.8"/>
<path class="k" d="M357.84 484.6Q356.5 488 356.5 492V550.8"/>
<path class="k" d="M363.6 484.6Q361.8 488 361.8 492V550.8"/>
<path class="k" d="M366.87 484.6Q364.8 488 364.8 492V550.8"/>
<path class="k" d="M370.89 484.6Q368.5 488 368.5 492V550.8"/>
<path class="k" d="M373.29 484.6Q370.7 488 370.7 492V550.8"/>
<path class="k" d="M376.55 484.6Q373.7 488 373.7 492V550.8"/>
<path d="M309.8 489V550.8M372.8 489V550.8" stroke="#222" stroke-width="2" fill="none"/>
<path class="kw" d="M309 550.8V571Q309 579.4 317.5 579.4H365Q373.6 579.4 373.6 571V550.8Z"/>
<path class="k" d="M309 569L373.6 569"/>
<rect class="kw" x="282.5" y="505.6" width="29.9" height="28.7"/>
<path class="kt" d="M282.5 507.6L312.4 507.6"/>
<path class="kt" d="M282.5 532.2L312.4 532.2"/>
<path class="kt" d="M284.6 505.6L284.6 534.3"/>
<rect class="kw" x="299" y="500.4" width="3" height="38.6"/>
<path class="kwi" d="M540.1 512.6V515.6A4.3 2.4 0 0 0 548.7 515.6V512.6Z"/>
<path class="kwi" d="M655.7 579.6V582.6A4.3 2.4 0 0 0 664.3 582.6V579.6Z"/>
<path class="kwi" d="M849.1 466.4V469.4A4.3 2.4 0 0 0 857.7 469.4V466.4Z"/>
<path class="kwi" d="M535.6 503.6L659.5 574.2L861.4 459.1L861.4 465.8L659.5 580.9L535.6 510.3Z"/>
<path class="kwi" d="M535.6 503.6L659.5 574.2L861.4 459.1L737.5 388.5Z"/>
<path class="ki" d="M659.5 574.2L659.5 580.9"/>
<path d="M679.5 344.21L710.57 326.27L711.36 325.84L714.69 324.13L717.95 322.73L721.14 321.63L724.24 320.83L727.25 320.27L730.19 319.82L733.01 319.66L735.72 319.79L738.3 320.19L740.78 320.75L743.11 321.58L745.29 322.67L747.31 324L749.18 325.55L750.88 327.31L752.4 329.3L753.73 331.49L754.87 333.87L755.82 336.43L756.7 339.03L757.4 341.79L757.9 344.71L758.2 347.76L758.3 350.94L758.23 354.21L757.98 357.57L757.54 361.01L756.91 364.51L756.09 368.06L755.09 371.64L753.9 375.23L752.55 378.81L751.03 382.37L749.35 385.89L747.53 389.35L745.56 392.73L743.47 396.03L741.26 399.22L738.93 402.29L736.52 405.22L734.02 408L731.44 410.62L728.81 413.06L726.13 415.31L723.42 417.37L720.69 419.21L717.95 420.85L715.22 422.24L712.51 423.41L709.84 424.34L707.22 425.04L704.65 425.49L702.16 425.7L699.75 425.66L697.44 425.38L695.24 424.87L693.15 424.11L691.19 423.12L689.37 421.91L687.69 420.48L686.16 418.83L684.8 416.98L683.6 414.93L682.57 412.7L681.72 410.3L681.04 407.74L680.55 405.03L680.24 402.19L680.12 399.22L680.15 396.17L680.33 393.04L680.7 389.83L681.25 386.55L681.97 383.22L682.88 379.85L683.95 376.46L685.19 373.07L686.59 369.69L686.71 369.38L679.5 373.55ZM704.97 359.08L736.04 341.14L736.84 340.71L740.16 339.01L743.43 337.6L746.62 336.5L749.72 335.7L752.73 335.14L755.66 334.7L758.49 334.54L761.2 334.66L763.77 335.06L766.25 335.62L768.59 336.45L770.77 337.54L772.79 338.87L774.66 340.42L776.36 342.18L777.87 344.17L779.21 346.36L780.35 348.74L781.29 351.3L782.18 353.9L782.87 356.66L783.37 359.58L783.67 362.63L783.78 365.81L783.7 369.09L783.46 372.44L783.02 375.88L782.39 379.38L781.56 382.93L780.56 386.51L779.38 390.1L778.02 393.68L776.5 397.24L774.83 400.76L773 404.22L771.04 407.61L768.94 410.9L766.73 414.09L764.41 417.16L761.99 420.09L759.49 422.87L756.92 425.49L754.29 427.93L751.61 430.18L748.9 432.24L746.16 434.09L743.43 435.72L740.7 437.12L737.99 438.28L735.32 439.21L732.69 439.91L730.13 440.36L727.63 440.57L725.23 440.53L722.91 440.26L720.71 439.74L718.62 438.98L716.66 438L714.84 436.78L713.16 435.35L711.64 433.7L710.27 431.85L709.07 429.8L708.04 427.57L707.19 425.17L706.52 422.61L706.02 419.9L705.71 417.06L705.59 414.1L705.62 411.05L705.81 407.92L706.17 404.7L706.72 401.42L707.45 398.09L708.35 394.72L709.43 391.33L710.67 387.94L712.07 384.56L712.19 384.26L704.97 388.42ZM679.5 373.55L686.71 369.38L712.19 384.26L704.97 388.42ZM712.19 384.26L712.07 384.56L686.59 369.69L686.71 369.38ZM712.07 384.56L710.67 387.94L685.19 373.07L686.59 369.69ZM710.67 387.94L709.43 391.33L683.95 376.46L685.19 373.07ZM709.43 391.33L708.35 394.72L682.88 379.85L683.95 376.46ZM708.35 394.72L707.45 398.09L681.97 383.22L682.88 379.85ZM707.45 398.09L706.72 401.42L681.25 386.55L681.97 383.22ZM706.72 401.42L706.17 404.7L680.7 389.83L681.25 386.55ZM706.17 404.7L705.81 407.92L680.33 393.04L680.7 389.83ZM705.81 407.92L705.62 411.05L680.15 396.17L680.33 393.04ZM705.62 411.05L705.59 414.1L680.12 399.22L680.15 396.17ZM705.59 414.1L705.71 417.06L680.24 402.19L680.12 399.22ZM705.71 417.06L706.02 419.9L680.55 405.03L680.24 402.19ZM706.02 419.9L706.52 422.61L681.04 407.74L680.55 405.03ZM706.52 422.61L707.19 425.17L681.72 410.3L681.04 407.74ZM707.19 425.17L708.04 427.57L682.57 412.7L681.72 410.3ZM708.04 427.57L709.07 429.8L683.6 414.93L682.57 412.7ZM709.07 429.8L710.27 431.85L684.8 416.98L683.6 414.93ZM710.27 431.85L711.64 433.7L686.16 418.83L684.8 416.98ZM711.64 433.7L713.16 435.35L687.69 420.48L686.16 418.83ZM713.16 435.35L714.84 436.78L689.37 421.91L687.69 420.48ZM714.84 436.78L716.66 438L691.19 423.12L689.37 421.91ZM691.19 423.12L693.15 424.11L718.62 438.98L716.66 438ZM693.15 424.11L695.24 424.87L720.71 439.74L718.62 438.98ZM695.24 424.87L697.44 425.38L722.91 440.26L720.71 439.74ZM697.44 425.38L699.75 425.66L725.23 440.53L722.91 440.26ZM699.75 425.66L702.16 425.7L727.63 440.57L725.23 440.53ZM702.16 425.7L704.65 425.49L730.13 440.36L727.63 440.57ZM704.65 425.49L707.22 425.04L732.69 439.91L730.13 440.36ZM707.22 425.04L709.84 424.34L735.32 439.21L732.69 439.91ZM709.84 424.34L712.51 423.41L737.99 438.28L735.32 439.21ZM712.51 423.41L715.22 422.24L740.7 437.12L737.99 438.28ZM715.22 422.24L717.95 420.85L743.43 435.72L740.7 437.12ZM717.95 420.85L720.69 419.21L746.16 434.09L743.43 435.72ZM720.69 419.21L723.42 417.37L748.9 432.24L746.16 434.09ZM723.42 417.37L726.13 415.31L751.61 430.18L748.9 432.24ZM726.13 415.31L728.81 413.06L754.29 427.93L751.61 430.18ZM728.81 413.06L731.44 410.62L756.92 425.49L754.29 427.93ZM731.44 410.62L734.02 408L759.49 422.87L756.92 425.49ZM734.02 408L736.52 405.22L761.99 420.09L759.49 422.87ZM736.52 405.22L738.93 402.29L764.41 417.16L761.99 420.09ZM738.93 402.29L741.26 399.22L766.73 414.09L764.41 417.16ZM741.26 399.22L743.47 396.03L768.94 410.9L766.73 414.09ZM743.47 396.03L745.56 392.73L771.04 407.61L768.94 410.9ZM745.56 392.73L747.53 389.35L773 404.22L771.04 407.61ZM747.53 389.35L749.35 385.89L774.83 400.76L773 404.22ZM749.35 385.89L751.03 382.37L776.5 397.24L774.83 400.76ZM751.03 382.37L752.55 378.81L778.02 393.68L776.5 397.24ZM752.55 378.81L753.9 375.23L779.38 390.1L778.02 393.68ZM753.9 375.23L755.09 371.64L780.56 386.51L779.38 390.1ZM755.09 371.64L756.09 368.06L781.56 382.93L780.56 386.51ZM756.09 368.06L756.91 364.51L782.39 379.38L781.56 382.93ZM756.91 364.51L757.54 361.01L783.02 375.88L782.39 379.38ZM757.54 361.01L757.98 357.57L783.46 372.44L783.02 375.88ZM757.98 357.57L758.23 354.21L783.7 369.09L783.46 372.44ZM758.23 354.21L758.3 350.94L783.78 365.81L783.7 369.09ZM758.3 350.94L758.2 347.76L783.67 362.63L783.78 365.81ZM758.2 347.76L757.9 344.71L783.37 359.58L783.67 362.63ZM757.9 344.71L757.4 341.79L782.87 356.66L783.37 359.58ZM757.4 341.79L756.7 339.03L782.18 353.9L782.87 356.66ZM756.7 339.03L755.82 336.43L781.29 351.3L782.18 353.9ZM755.82 336.43L754.87 333.87L780.35 348.74L781.29 351.3ZM754.87 333.87L753.73 331.49L779.21 346.36L780.35 348.74ZM753.73 331.49L752.4 329.3L777.87 344.17L779.21 346.36ZM752.4 329.3L750.88 327.31L776.36 342.18L777.87 344.17ZM750.88 327.31L749.18 325.55L774.66 340.42L776.36 342.18ZM749.18 325.55L747.31 324L772.79 338.87L774.66 340.42ZM747.31 324L745.29 322.67L770.77 337.54L772.79 338.87ZM770.77 337.54L768.59 336.45L743.11 321.58L745.29 322.67ZM768.59 336.45L766.25 335.62L740.78 320.75L743.11 321.58ZM766.25 335.62L763.77 335.06L738.3 320.19L740.78 320.75ZM763.77 335.06L761.2 334.66L735.72 319.79L738.3 320.19ZM761.2 334.66L758.49 334.54L733.01 319.66L735.72 319.79ZM758.49 334.54L755.66 334.7L730.19 319.82L733.01 319.66ZM755.66 334.7L752.73 335.14L727.25 320.27L730.19 319.82ZM752.73 335.14L749.72 335.7L724.24 320.83L727.25 320.27ZM749.72 335.7L746.62 336.5L721.14 321.63L724.24 320.83ZM746.62 336.5L743.43 337.6L717.95 322.73L721.14 321.63ZM743.43 337.6L740.16 339.01L714.69 324.13L717.95 322.73ZM740.16 339.01L736.84 340.71L711.36 325.84L714.69 324.13ZM736.84 340.71L736.04 341.14L710.57 326.27L711.36 325.84ZM736.04 341.14L704.97 359.08L679.5 344.21L710.57 326.27ZM704.97 359.08L704.97 388.42L679.5 373.55L679.5 344.21Z" fill="#fff" stroke="none" fill-rule="nonzero"/>
<path class="ki" d="M686.71 369.38L686.59 369.69L685.19 373.07L683.95 376.46L682.88 379.85L681.97 383.22L681.25 386.55L680.7 389.83L680.33 393.04L680.15 396.17L680.12 399.22L680.24 402.19L680.55 405.03L681.04 407.74L681.72 410.3L682.57 412.7L683.6 414.93L684.8 416.98L686.16 418.83L687.69 420.48L689.37 421.91L691.19 423.12M745.29 322.67L743.11 321.58L740.78 320.75L738.3 320.19L735.72 319.79L733.01 319.66L730.19 319.82L727.25 320.27L724.24 320.83L721.14 321.63L717.95 322.73L714.69 324.13L711.36 325.84L710.57 326.27L679.5 344.21L679.5 373.55M679.5 373.55L704.97 388.42M686.71 369.38L712.19 384.26M691.19 423.12L716.66 438M745.29 322.67L770.77 337.54M704.97 388.42L712.19 384.26L712.07 384.56L710.67 387.94L709.43 391.33L708.35 394.72L707.45 398.09L706.72 401.42L706.17 404.7L705.81 407.92L705.62 411.05L705.59 414.1L705.71 417.06L706.02 419.9L706.52 422.61L707.19 425.17L708.04 427.57L709.07 429.8L710.27 431.85L711.64 433.7L713.16 435.35L714.84 436.78L716.66 438L718.62 438.98L720.71 439.74L722.91 440.26L725.23 440.53L727.63 440.57L730.13 440.36L732.69 439.91L735.32 439.21L737.99 438.28L740.7 437.12L743.43 435.72L746.16 434.09L748.9 432.24L751.61 430.18L754.29 427.93L756.92 425.49L759.49 422.87L761.99 420.09L764.41 417.16L766.73 414.09L768.94 410.9L771.04 407.61L773 404.22L774.83 400.76L776.5 397.24L778.02 393.68L779.38 390.1L780.56 386.51L781.56 382.93L782.39 379.38L783.02 375.88L783.46 372.44L783.7 369.09L783.78 365.81L783.67 362.63L783.37 359.58L782.87 356.66L782.18 353.9L781.29 351.3L780.35 348.74L779.21 346.36L777.87 344.17L776.36 342.18L774.66 340.42L772.79 338.87L770.77 337.54L768.59 336.45L766.25 335.62L763.77 335.06L761.2 334.66L758.49 334.54L755.66 334.7L752.73 335.14L749.72 335.7L746.62 336.5L743.43 337.6L740.16 339.01L736.84 340.71L736.04 341.14L704.97 359.08Z"/>
<path class="ki" d="M710.57 326.27L736.04 341.14"/>
<g transform="translate(0.8 1.7)">
<path class="ki" d="M778.87 370.26L778.73 366.8L778.33 363.51L777.66 360.43L776.73 357.58L775.55 354.99L774.12 352.66L772.46 350.63L770.58 348.9L768.49 347.49L766.21 346.41L763.76 345.66L761.15 345.26L758.41 345.21L755.55 345.5L752.6 346.13L749.58 347.11L746.52 348.42L743.43 350.05L740.34 351.98L737.27 354.22L734.25 356.73L731.3 359.5L728.45 362.51L725.71 365.73L723.1 369.14L720.64 372.72L718.36 376.43L716.28 380.26L714.39 384.16L712.73 388.11L711.3 392.09L710.12 396.05L709.19 399.97L708.52 403.82L708.12 407.57L707.98 411.2L708.12 414.67L708.52 417.95L709.19 421.03L710.12 423.88L711.3 426.47L712.73 428.8L714.39 430.83L716.28 432.56L718.36 433.97L720.64 435.05L723.1 435.8L725.7 436.2L728.45 436.25L731.3 435.96L734.25 435.33L737.27 434.35L740.34 433.04L743.43 431.42L746.52 429.48L749.58 427.24L752.6 424.73L755.55 421.96L758.41 418.95L761.15 415.73L763.76 412.32L766.21 408.74L768.49 405.03L770.58 401.2L772.46 397.3L774.12 393.35L775.55 389.37L776.73 385.41L777.66 381.49L778.33 377.64L778.73 373.89Z"/>
<ellipse class="kbi" cx="777.51" cy="371.05" rx="1.8" ry="2.2"/>
<ellipse class="kbi" cx="772.94" cy="354.13" rx="1.8" ry="2.2"/>
<ellipse class="kbi" cx="760.47" cy="347.01" rx="1.8" ry="2.2"/>
<ellipse class="kbi" cx="743.43" cy="351.61" rx="1.8" ry="2.2"/>
<ellipse class="kbi" cx="726.39" cy="366.69" rx="1.8" ry="2.2"/>
<ellipse class="kbi" cx="713.91" cy="388.21" rx="1.8" ry="2.2"/>
<ellipse class="kbi" cx="709.35" cy="410.41" rx="1.8" ry="2.2"/>
<ellipse class="kbi" cx="713.91" cy="427.33" rx="1.8" ry="2.2"/>
<ellipse class="kbi" cx="726.39" cy="434.45" rx="1.8" ry="2.2"/>
<ellipse class="kbi" cx="743.43" cy="429.85" rx="1.8" ry="2.2"/>
<ellipse class="kbi" cx="760.47" cy="414.77" rx="1.8" ry="2.2"/>
<ellipse class="kbi" cx="772.94" cy="393.25" rx="1.8" ry="2.2"/>
</g>
<path class="kwi" d="M551.89 506.68L557.57 503.4L618.07 538.72L612.39 542Z"/>
<ellipse class="d" cx="558.62" cy="507.31" rx="1.6" ry="1.2"/>
<ellipse class="d" cx="611.34" cy="538.09" rx="1.6" ry="1.2"/>
<path class="kwi" d="M618.87 534.25L725.09 472.91L725.09 475.78L618.87 537.12Z"/>
<path class="kwi" d="M554.77 496.83L618.87 534.25L618.87 537.12L554.77 499.7Z"/>
<path class="kwi" d="M619.47 535.49L624.01 532.86L623.44 536.58L620.04 538.55Z"/>
<path class="kwi" d="M716.6 479.4L721.14 476.77L720.57 480.49L717.16 482.46Z"/>
<path class="kwi" d="M557.02 371.37L660.96 311.35L722.84 347.48L618.9 407.5Z"/>
<path class="kwi" d="M557.02 496.82L618.9 532.94L618.9 407.5L557.02 371.37Z"/>
<path class="kwi" d="M618.9 532.94L722.84 472.92L722.84 347.48L618.9 407.5Z"/>
<path class="ki2" d="M557.02 496.82L557.02 371.37"/>
<path class="ki2" d="M557.02 371.37L618.9 407.5"/>
<path class="ki2" d="M618.9 407.5L618.9 532.94"/>
<path class="ki2" d="M618.9 532.94L722.84 472.92"/>
<path class="ki" d="M618.9 478.44L722.84 418.41"/>
<path class="kf" d="M624.86 417.1L636.05 410.63L636.05 461.36L624.86 467.82Z"/>
<path d="M624.86 418.73L636.05 412.26M624.86 421.59L636.05 415.13M624.86 424.45L636.05 417.99M624.86 427.31L636.05 420.85M624.86 430.18L636.05 423.71M624.86 433.04L636.05 426.58M624.86 435.9L636.05 429.44M624.86 438.76L636.05 432.3M624.86 441.62L636.05 435.16M624.86 444.49L636.05 438.02M624.86 447.35L636.05 440.89M624.86 450.21L636.05 443.75M624.86 453.07L636.05 446.61M624.86 455.94L636.05 449.47M624.86 458.8L636.05 452.34M624.86 461.66L636.05 455.2M624.86 464.52L636.05 458.06M624.86 467.38L636.05 460.92" stroke="#0c0c0c" stroke-width="1.75" fill="none"/>
<path class="kf" d="M645.08 405.42L656.39 398.89L656.39 449.62L645.08 456.14Z"/>
<path d="M645.08 407.05L656.39 400.52M645.08 409.91L656.39 403.38M645.08 412.77L656.39 406.25M645.08 415.64L656.39 409.11M645.08 418.5L656.39 411.97M645.08 421.36L656.39 414.83M645.08 424.22L656.39 417.7M645.08 427.09L656.39 420.56M645.08 429.95L656.39 423.42M645.08 432.81L656.39 426.28M645.08 435.67L656.39 429.14M645.08 438.53L656.39 432.01M645.08 441.4L656.39 434.87M645.08 444.26L656.39 437.73M645.08 447.12L656.39 440.59M645.08 449.98L656.39 443.46M645.08 452.85L656.39 446.32M645.08 455.71L656.39 449.18" stroke="#0c0c0c" stroke-width="1.75" fill="none"/>
<path class="kf" d="M665.87 393.41L676.67 387.18L676.67 437.91L665.87 444.14Z"/>
<path d="M665.87 395.04L676.67 388.81M665.87 397.91L676.67 391.67M665.87 400.77L676.67 394.54M665.87 403.63L676.67 397.4M665.87 406.49L676.67 400.26M665.87 409.36L676.67 403.12M665.87 412.22L676.67 405.99M665.87 415.08L676.67 408.85M665.87 417.94L676.67 411.71M665.87 420.8L676.67 414.57M665.87 423.67L676.67 417.44M665.87 426.53L676.67 420.3M665.87 429.39L676.67 423.16M665.87 432.25L676.67 426.02M665.87 435.12L676.67 428.88M665.87 437.98L676.67 431.75M665.87 440.84L676.67 434.61M665.87 443.7L676.67 437.47" stroke="#0c0c0c" stroke-width="1.75" fill="none"/>
<path class="kf" d="M685.87 381.87L696.77 375.57L696.77 426.3L685.87 432.59Z"/>
<path d="M685.87 383.5L696.77 377.2M685.87 386.36L696.77 380.06M685.87 389.22L696.77 382.93M685.87 392.09L696.77 385.79M685.87 394.95L696.77 388.65M685.87 397.81L696.77 391.51M685.87 400.67L696.77 394.37M685.87 403.53L696.77 397.24M685.87 406.4L696.77 400.1M685.87 409.26L696.77 402.96M685.87 412.12L696.77 405.82M685.87 414.98L696.77 408.69M685.87 417.85L696.77 411.55M685.87 420.71L696.77 414.41M685.87 423.57L696.77 417.27M685.87 426.43L696.77 420.14M685.87 429.3L696.77 423M685.87 432.16L696.77 425.86" stroke="#0c0c0c" stroke-width="1.75" fill="none"/>
<path class="kf" d="M706.09 370.19L717.11 363.83L717.11 414.55L706.09 420.92Z"/>
<path d="M706.09 371.82L717.11 365.46M706.09 374.68L717.11 368.32M706.09 377.55L717.11 371.18M706.09 380.41L717.11 374.05M706.09 383.27L717.11 376.91M706.09 386.13L717.11 379.77M706.09 389L717.11 382.63M706.09 391.86L717.11 385.49M706.09 394.72L717.11 388.36M706.09 397.58L717.11 391.22M706.09 400.44L717.11 394.08M706.09 403.31L717.11 396.94M706.09 406.17L717.11 399.81M706.09 409.03L717.11 402.67M706.09 411.89L717.11 405.53M706.09 414.76L717.11 408.39M706.09 417.62L717.11 411.26M706.09 420.48L717.11 414.12" stroke="#0c0c0c" stroke-width="1.75" fill="none"/>
<ellipse class="d" cx="620.55" cy="434.98" rx="1.1" ry="1.4"/>
<ellipse class="d" cx="720.57" cy="377.22" rx="1.1" ry="1.4"/>
<ellipse class="d" cx="620.55" cy="452.78" rx="1.1" ry="1.4"/>
<ellipse class="d" cx="720.57" cy="395.01" rx="1.1" ry="1.4"/>
<ellipse class="d" cx="620.55" cy="470.58" rx="1.1" ry="1.4"/>
<ellipse class="d" cx="720.57" cy="412.81" rx="1.1" ry="1.4"/>
<ellipse class="d" cx="620.55" cy="488.31" rx="1.1" ry="1.4"/>
<ellipse class="d" cx="720.57" cy="430.55" rx="1.1" ry="1.4"/>
<ellipse class="d" cx="620.55" cy="506.04" rx="1.1" ry="1.4"/>
<ellipse class="d" cx="720.57" cy="448.28" rx="1.1" ry="1.4"/>
<ellipse class="d" cx="620.55" cy="523.84" rx="1.1" ry="1.4"/>
<ellipse class="d" cx="720.57" cy="466.08" rx="1.1" ry="1.4"/>
<path class="kf2" d="M563.34 450.7L569.89 454.52L569.89 488.69L563.34 484.86Z"/>
<path d="M563.34 451.35L569.89 455.17M563.34 453.08L569.89 456.9M563.34 454.81L569.89 458.63M563.34 456.54L569.89 460.36M563.34 458.27L569.89 462.09M563.34 460L569.89 463.82M563.34 461.73L569.89 465.55M563.34 463.46L569.89 467.28M563.34 465.19L569.89 469.01M563.34 466.92L569.89 470.74M563.34 468.65L569.89 472.47M563.34 470.38L569.89 474.2M563.34 472.11L569.89 475.93M563.34 473.84L569.89 477.66M563.34 475.56L569.89 479.39M563.34 477.29L569.89 481.12M563.34 479.02L569.89 482.85M563.34 480.75L569.89 484.58M563.34 482.48L569.89 486.31M563.34 484.21L569.89 488.04" stroke="#0c0c0c" stroke-width="1.1" fill="none"/>
<path class="kf2" d="M605.86 475.52L612.3 479.28L612.3 513.44L605.86 509.68Z"/>
<path d="M605.86 476.17L612.3 479.93M605.86 477.9L612.3 481.66M605.86 479.63L612.3 483.39M605.86 481.36L612.3 485.12M605.86 483.09L612.3 486.85M605.86 484.82L612.3 488.58M605.86 486.55L612.3 490.31M605.86 488.28L612.3 492.04M605.86 490.01L612.3 493.76M605.86 491.74L612.3 495.49M605.86 493.47L612.3 497.22M605.86 495.19L612.3 498.95M605.86 496.92L612.3 500.68M605.86 498.65L612.3 502.41M605.86 500.38L612.3 504.14M605.86 502.11L612.3 505.87M605.86 503.84L612.3 507.6M605.86 505.57L612.3 509.33M605.86 507.3L612.3 511.06M605.86 509.03L612.3 512.79" stroke="#0c0c0c" stroke-width="1.1" fill="none"/>
<ellipse class="d" cx="565.62" cy="389.31" rx="1.5" ry="1.9"/>
<ellipse class="d" cx="609.96" cy="415.19" rx="1.5" ry="1.9"/>
<ellipse class="d" cx="565.62" cy="441.86" rx="1.5" ry="1.9"/>
<ellipse class="d" cx="609.96" cy="467.74" rx="1.5" ry="1.9"/>
<ellipse class="d" cx="570.34" cy="506.81" rx="1.1" ry="1.4"/>
<ellipse class="d" cx="605.3" cy="527.22" rx="1.1" ry="1.4"/>
<path class="ki" d="M588.1 389.52L588.1 398.91"/>
<path class="ki" d="M588.1 462.8L588.1 514.96"/>
<path d="M611.35 441.52L611.18 443.32L610.9 445.03L610.5 446.66L610 448.18L609.39 449.6L608.68 450.9L607.87 452.08L606.96 453.14L605.95 454.06L604.87 454.84L603.69 455.49L602.45 455.99L601.13 456.34L599.75 456.55L598.32 456.61L596.83 456.52L595.3 456.28L593.74 455.89L592.15 455.36L590.53 454.69L588.91 453.87L587.28 452.92L585.66 451.84L584.05 450.63L582.46 449.31L580.89 447.87L579.37 446.32L577.88 444.68L576.44 442.94L575.06 441.12L573.75 439.23L572.5 437.27L571.33 435.26L570.24 433.21L569.24 431.12L568.33 429L567.52 426.87L566.8 424.74L566.19 422.61L565.69 420.5L565.3 418.41L565.01 416.37L564.84 414.37L564.79 412.42L564.84 410.54L565.01 408.74L565.3 407.03L565.69 405.4L566.19 403.88L566.8 402.46L567.52 401.16L568.33 399.98L569.24 398.92L570.24 398L571.33 397.22L572.5 396.57L573.75 396.07L575.06 395.72L576.44 395.51L577.88 395.45L579.37 395.54L580.89 395.78L582.46 396.17L584.05 396.7L585.66 397.37L587.28 398.19L588.91 399.14L590.53 400.22L592.15 401.43L593.74 402.75L595.3 404.19L596.83 405.74L598.32 407.38L599.75 409.12L601.13 410.94L602.45 412.83L603.69 414.79L604.87 416.8L605.95 418.85L606.96 420.94L607.87 423.06L608.68 425.19L609.39 427.32L610 429.45L610.5 431.56L610.9 433.65L611.18 435.69L611.35 437.69L611.41 439.64ZM590.33 453.65L590.16 455.45L589.88 457.17L589.49 458.79L588.99 460.32L588.38 461.74L587.66 463.04L586.85 464.22L585.94 465.27L584.94 466.19L583.85 466.98L582.68 467.62L581.43 468.12L580.12 468.48L578.74 468.69L577.3 468.74L575.81 468.65L574.28 468.41L572.72 468.03L571.13 467.5L569.52 466.82L567.9 466.01L566.27 465.06L564.64 463.98L563.03 462.77L561.44 461.44L559.88 460L558.35 458.46L556.86 456.81L555.43 455.08L554.05 453.26L552.73 451.37L551.48 449.41L550.31 447.4L549.23 445.34L548.22 443.25L547.31 441.14L546.5 439.01L545.79 436.87L545.18 434.74L544.67 432.63L544.28 430.55L544 428.5L543.83 426.5L543.77 424.56L543.83 422.68L544 420.88L544.28 419.16L544.67 417.54L545.18 416.01L545.79 414.6L546.5 413.29L547.31 412.11L548.22 411.06L549.23 410.14L550.31 409.35L551.48 408.71L552.73 408.21L554.05 407.85L555.43 407.65L556.86 407.59L558.35 407.68L559.88 407.92L561.44 408.3L563.03 408.84L564.64 409.51L566.27 410.32L567.9 411.27L569.52 412.35L571.13 413.56L572.72 414.89L574.28 416.33L575.81 417.87L577.3 419.52L578.74 421.25L580.12 423.07L581.43 424.97L582.68 426.92L583.85 428.93L584.94 430.99L585.94 433.08L586.85 435.19L587.66 437.33L588.38 439.46L588.99 441.59L589.49 443.7L589.88 445.78L590.16 447.83L590.33 449.83L590.39 451.77ZM590.39 451.77L590.33 449.83L611.35 437.69L611.41 439.64ZM590.33 449.83L590.16 447.83L611.18 435.69L611.35 437.69ZM590.16 447.83L589.88 445.78L610.9 433.65L611.18 435.69ZM589.88 445.78L589.49 443.7L610.5 431.56L610.9 433.65ZM589.49 443.7L588.99 441.59L610 429.45L610.5 431.56ZM588.99 441.59L588.38 439.46L609.39 427.32L610 429.45ZM588.38 439.46L587.66 437.33L608.68 425.19L609.39 427.32ZM587.66 437.33L586.85 435.19L607.87 423.06L608.68 425.19ZM586.85 435.19L585.94 433.08L606.96 420.94L607.87 423.06ZM585.94 433.08L584.94 430.99L605.95 418.85L606.96 420.94ZM584.94 430.99L583.85 428.93L604.87 416.8L605.95 418.85ZM583.85 428.93L582.68 426.92L603.69 414.79L604.87 416.8ZM582.68 426.92L581.43 424.97L602.45 412.83L603.69 414.79ZM581.43 424.97L580.12 423.07L601.13 410.94L602.45 412.83ZM580.12 423.07L578.74 421.25L599.75 409.12L601.13 410.94ZM578.74 421.25L577.3 419.52L598.32 407.38L599.75 409.12ZM577.3 419.52L575.81 417.87L596.83 405.74L598.32 407.38ZM575.81 417.87L574.28 416.33L595.3 404.19L596.83 405.74ZM574.28 416.33L572.72 414.89L593.74 402.75L595.3 404.19ZM572.72 414.89L571.13 413.56L592.15 401.43L593.74 402.75ZM571.13 413.56L569.52 412.35L590.53 400.22L592.15 401.43ZM569.52 412.35L567.9 411.27L588.91 399.14L590.53 400.22ZM567.9 411.27L566.27 410.32L587.28 398.19L588.91 399.14ZM566.27 410.32L564.64 409.51L585.66 397.37L587.28 398.19ZM564.64 409.51L563.03 408.84L584.05 396.7L585.66 397.37ZM563.03 408.84L561.44 408.3L582.46 396.17L584.05 396.7ZM561.44 408.3L559.88 407.92L580.89 395.78L582.46 396.17ZM559.88 407.92L558.35 407.68L579.37 395.54L580.89 395.78ZM558.35 407.68L556.86 407.59L577.88 395.45L579.37 395.54ZM556.86 407.59L555.43 407.65L576.44 395.51L577.88 395.45ZM555.43 407.65L554.05 407.85L575.06 395.72L576.44 395.51ZM554.05 407.85L552.73 408.21L573.75 396.07L575.06 395.72ZM552.73 408.21L551.48 408.71L572.5 396.57L573.75 396.07ZM551.48 408.71L550.31 409.35L571.33 397.22L572.5 396.57ZM571.33 397.22L570.24 398L549.23 410.14L550.31 409.35ZM570.24 398L569.24 398.92L548.22 411.06L549.23 410.14ZM569.24 398.92L568.33 399.98L547.31 412.11L548.22 411.06ZM568.33 399.98L567.52 401.16L546.5 413.29L547.31 412.11ZM567.52 401.16L566.8 402.46L545.79 414.6L546.5 413.29ZM566.8 402.46L566.19 403.88L545.18 416.01L545.79 414.6ZM566.19 403.88L565.69 405.4L544.67 417.54L545.18 416.01ZM565.69 405.4L565.3 407.03L544.28 419.16L544.67 417.54ZM565.3 407.03L565.01 408.74L544 420.88L544.28 419.16ZM565.01 408.74L564.84 410.54L543.83 422.68L544 420.88ZM564.84 410.54L564.79 412.42L543.77 424.56L543.83 422.68ZM564.79 412.42L564.84 414.37L543.83 426.5L543.77 424.56ZM564.84 414.37L565.01 416.37L544 428.5L543.83 426.5ZM565.01 416.37L565.3 418.41L544.28 430.55L544 428.5ZM565.3 418.41L565.69 420.5L544.67 432.63L544.28 430.55ZM565.69 420.5L566.19 422.61L545.18 434.74L544.67 432.63ZM566.19 422.61L566.8 424.74L545.79 436.87L545.18 434.74ZM566.8 424.74L567.52 426.87L546.5 439.01L545.79 436.87ZM567.52 426.87L568.33 429L547.31 441.14L546.5 439.01ZM568.33 429L569.24 431.12L548.22 443.25L547.31 441.14ZM569.24 431.12L570.24 433.21L549.23 445.34L548.22 443.25ZM570.24 433.21L571.33 435.26L550.31 447.4L549.23 445.34ZM571.33 435.26L572.5 437.27L551.48 449.41L550.31 447.4ZM572.5 437.27L573.75 439.23L552.73 451.37L551.48 449.41ZM573.75 439.23L575.06 441.12L554.05 453.26L552.73 451.37ZM575.06 441.12L576.44 442.94L555.43 455.08L554.05 453.26ZM576.44 442.94L577.88 444.68L556.86 456.81L555.43 455.08ZM577.88 444.68L579.37 446.32L558.35 458.46L556.86 456.81ZM579.37 446.32L580.89 447.87L559.88 460L558.35 458.46ZM580.89 447.87L582.46 449.31L561.44 461.44L559.88 460ZM582.46 449.31L584.05 450.63L563.03 462.77L561.44 461.44ZM584.05 450.63L585.66 451.84L564.64 463.98L563.03 462.77ZM585.66 451.84L587.28 452.92L566.27 465.06L564.64 463.98ZM587.28 452.92L588.91 453.87L567.9 466.01L566.27 465.06ZM588.91 453.87L590.53 454.69L569.52 466.82L567.9 466.01ZM590.53 454.69L592.15 455.36L571.13 467.5L569.52 466.82ZM592.15 455.36L593.74 455.89L572.72 468.03L571.13 467.5ZM593.74 455.89L595.3 456.28L574.28 468.41L572.72 468.03ZM595.3 456.28L596.83 456.52L575.81 468.65L574.28 468.41ZM596.83 456.52L598.32 456.61L577.3 468.74L575.81 468.65ZM598.32 456.61L599.75 456.55L578.74 468.69L577.3 468.74ZM599.75 456.55L601.13 456.34L580.12 468.48L578.74 468.69ZM601.13 456.34L602.45 455.99L581.43 468.12L580.12 468.48ZM602.45 455.99L603.69 455.49L582.68 467.62L581.43 468.12ZM603.69 455.49L604.87 454.84L583.85 466.98L582.68 467.62ZM583.85 466.98L584.94 466.19L605.95 454.06L604.87 454.84ZM584.94 466.19L585.94 465.27L606.96 453.14L605.95 454.06ZM585.94 465.27L586.85 464.22L607.87 452.08L606.96 453.14ZM586.85 464.22L587.66 463.04L608.68 450.9L607.87 452.08ZM587.66 463.04L588.38 461.74L609.39 449.6L608.68 450.9ZM588.38 461.74L588.99 460.32L610 448.18L609.39 449.6ZM588.99 460.32L589.49 458.79L610.5 446.66L610 448.18ZM589.49 458.79L589.88 457.17L610.9 445.03L610.5 446.66ZM589.88 457.17L590.16 455.45L611.18 443.32L610.9 445.03ZM590.16 455.45L590.33 453.65L611.35 441.52L611.18 443.32ZM590.33 453.65L590.39 451.77L611.41 439.64L611.35 441.52Z" fill="#fff" stroke="none" fill-rule="nonzero"/>
<path class="ki" d="M611.41 439.64L611.35 437.69L611.18 435.69L610.9 433.65L610.5 431.56L610 429.45L609.39 427.32L608.68 425.19L607.87 423.06L606.96 420.94L605.95 418.85L604.87 416.8L603.69 414.79L602.45 412.83L601.13 410.94L599.75 409.12L598.32 407.38L596.83 405.74L595.3 404.19L593.74 402.75L592.15 401.43L590.53 400.22L588.91 399.14L587.28 398.19L585.66 397.37L584.05 396.7L582.46 396.17L580.89 395.78L579.37 395.54L577.88 395.45L576.44 395.51L575.06 395.72L573.75 396.07L572.5 396.57L571.33 397.22M604.87 454.84L605.95 454.06L606.96 453.14L607.87 452.08L608.68 450.9L609.39 449.6L610 448.18L610.5 446.66L610.9 445.03L611.18 443.32L611.35 441.52L611.41 439.64M571.33 397.22L550.31 409.35M604.87 454.84L583.85 466.98M590.39 451.77L590.33 449.83L590.16 447.83L589.88 445.78L589.49 443.7L588.99 441.59L588.38 439.46L587.66 437.33L586.85 435.19L585.94 433.08L584.94 430.99L583.85 428.93L582.68 426.92L581.43 424.97L580.12 423.07L578.74 421.25L577.3 419.52L575.81 417.87L574.28 416.33L572.72 414.89L571.13 413.56L569.52 412.35L567.9 411.27L566.27 410.32L564.64 409.51L563.03 408.84L561.44 408.3L559.88 407.92L558.35 407.68L556.86 407.59L555.43 407.65L554.05 407.85L552.73 408.21L551.48 408.71L550.31 409.35L549.23 410.14L548.22 411.06L547.31 412.11L546.5 413.29L545.79 414.6L545.18 416.01L544.67 417.54L544.28 419.16L544 420.88L543.83 422.68L543.77 424.56L543.83 426.5L544 428.5L544.28 430.55L544.67 432.63L545.18 434.74L545.79 436.87L546.5 439.01L547.31 441.14L548.22 443.25L549.23 445.34L550.31 447.4L551.48 449.41L552.73 451.37L554.05 453.26L555.43 455.08L556.86 456.81L558.35 458.46L559.88 460L561.44 461.44L563.03 462.77L564.64 463.98L566.27 465.06L567.9 466.01L569.52 466.82L571.13 467.5L572.72 468.03L574.28 468.41L575.81 468.65L577.3 468.74L578.74 468.69L580.12 468.48L581.43 468.12L582.68 467.62L583.85 466.98L584.94 466.19L585.94 465.27L586.85 464.22L587.66 463.04L588.38 461.74L588.99 460.32L589.49 458.79L589.88 457.17L590.16 455.45L590.33 453.65Z"/>
<path class="kit" d="M589.5 451.26L589.42 448.91L589.16 446.48L588.74 443.99L588.15 441.46L587.4 438.9L586.5 436.33L585.45 433.78L584.26 431.26L582.94 428.8L581.49 426.4L579.94 424.1L578.29 421.9L576.56 419.83L574.75 417.89L572.88 416.11L570.98 414.5L569.04 413.07L567.08 411.83L565.13 410.78L563.19 409.95L561.28 409.33L559.41 408.94L557.61 408.76L555.87 408.81L554.22 409.08L552.67 409.57L551.23 410.28L549.91 411.21L548.71 412.34L547.66 413.66L546.76 415.17L546.01 416.86L545.42 418.7L545 420.7L544.74 422.83L544.66 425.08L544.74 427.42L545 429.85L545.42 432.34L546.01 434.87L546.76 437.43L547.66 440L548.71 442.55L549.91 445.07L551.23 447.54L552.67 449.93L554.22 452.24L555.87 454.43L557.61 456.51L559.41 458.44L561.28 460.22L563.19 461.83L565.13 463.27L567.08 464.51L569.04 465.55L570.98 466.38L572.88 467L574.75 467.4L576.56 467.57L578.29 467.52L579.94 467.25L581.49 466.76L582.94 466.05L584.26 465.12L585.45 464L586.5 462.67L587.4 461.16L588.15 459.48L588.74 457.63L589.16 455.63L589.42 453.5Z"/>
<path d="M579.86 429.09L579.86 456.47" stroke="#222" stroke-width="1.8" fill="none"/>
<circle class="d" cx="579.86" cy="456.47" r="1.7"/>
<path class="ki" d="M579.86 467.56L579.86 479.29L588.1 474.54" style="stroke-width:1.6"/>
<path class="kwi" d="M579.26 376.84L581.53 375.52L605.39 389.46L603.12 390.77Z"/>
<path class="kwi" d="M603.12 396.31L605.39 395L605.39 389.46L603.12 390.77Z"/>
<path class="kwi" d="M579.26 382.38L579.26 376.84L603.12 390.77L603.12 396.31L601.46 395.34L601.46 391.75L580.92 379.76L580.92 383.35Z" style="stroke-width:1.3"/>
<path class="kwi" d="M675.82 321.08L678.09 319.76L701.95 333.7L699.68 335.01Z"/>
<path class="kwi" d="M699.68 340.55L701.95 339.24L701.95 333.7L699.68 335.01Z"/>
<path class="kwi" d="M675.82 326.62L675.82 321.08L699.68 335.01L699.68 340.55L698.02 339.58L698.02 335.99L677.48 324L677.48 327.59Z" style="stroke-width:1.3"/>
<g transform="matrix(0.568 -0.328 0 0.652 567.61 407.39)">
<ellipse class="k" cx="245.4" cy="166.8" rx="10.7" ry="6.1" style="stroke-width:3.8;stroke:#0a0a0a"/>
<text x="245.4" y="165.6" text-anchor="middle" style="font-family:'Liberation Serif',serif;font-style:italic;font-size:3.6px;fill:#555">Sichenz</text>
<text x="245.4" y="169.6" text-anchor="middle" style="font-family:'Liberation Sans','Noto Sans CJK SC',sans-serif;font-size:3.6px;fill:#333">盛馳</text>
<text x="257.6" y="161" text-anchor="middle" style="font-family:'Liberation Sans',sans-serif;font-size:3px;fill:#555">®</text>
<text x="246.2" y="179.4" text-anchor="middle" style="font-family:'Liberation Sans','Noto Sans CJK SC',sans-serif;font-weight:bold;font-size:4.3px;letter-spacing:2.2px;fill:#222">工业热风机</text>
<rect class="k" x="223.8" y="181.8" width="43.2" height="25.6" rx="1.4" style="stroke-width:1.2"/>
<circle class="d" cx="225.4" cy="183.4" r="0.8"/>
<circle class="d" cx="265.4" cy="183.4" r="0.8"/>
<circle class="d" cx="225.4" cy="205.8" r="0.8"/>
<circle class="d" cx="265.4" cy="205.8" r="0.8"/>
<text x="224.8" y="210" textLength="41.6" lengthAdjust="spacingAndGlyphs" style="font-family:'Liberation Sans',sans-serif;font-weight:bold;font-size:2.6px;fill:#444">CLEAN ZONE HOT AIR BLOWER PRO. NO.CE</text>
<text x="257.4" y="223.6" text-anchor="middle" textLength="13.4" lengthAdjust="spacingAndGlyphs" style="font-family:'Liberation Sans',sans-serif;font-weight:bold;font-size:13.5px;fill:#111;stroke:#111;stroke-width:.7;stroke-linejoin:round">CE</text>
<text x="103" y="229.6" textLength="55" lengthAdjust="spacingAndGlyphs" style="font-family:'Liberation Sans','Noto Sans CJK SC',sans-serif;font-weight:bold;font-size:3.6px;fill:#444">制 造 商 广州盛馳机电有限公司</text>
<text x="103" y="233.8" textLength="62" lengthAdjust="spacingAndGlyphs" style="font-family:'Liberation Sans',sans-serif;font-size:2.6px;fill:#444">Manufacturer: Guangzhou Sichenz Machinery Co.,Ltd</text>
<text x="173" y="229.6" textLength="51" lengthAdjust="spacingAndGlyphs" style="font-family:'Liberation Sans',sans-serif;font-size:2.6px;fill:#444">Tel: 000-00000000   Fax: 000-00000000</text>
<text x="173" y="233.8" textLength="51" lengthAdjust="spacingAndGlyphs" style="font-family:'Liberation Sans',sans-serif;font-size:2.6px;fill:#444">Website: 0000000000   E-mail: 0000000000</text>
</g>
<path class="kwi" d="M804.25 456.98L812.77 452.06L822.54 457.77L814.02 462.69Z"/>
<path class="kwi" d="M814.02 462.69L816.86 461.05L816.86 435.23L814.02 436.87Z"/>
<path class="kwi" d="M784.71 451.51L808.91 465.64L808.91 437.21L784.71 423.09Z"/>
<path class="kwi" d="M770.85 487.61L770.85 452.99L814.02 428.07L814.02 462.69L808.91 465.64L808.91 437.21L775.96 456.24L775.96 484.66Z"/>
<path class="kwi" d="M731.67 430.12L774.83 405.19L814.02 428.07L770.85 452.99Z"/>
<path class="kwi" d="M731.67 464.74L770.85 487.61L770.85 452.99L731.67 430.12Z"/>
<path class="ki" d="M731.67 441.46L769.18 463.37"/>
<path class="ki" d="M769.18 463.37L769.18 486.64"/>
<path d="M741.05 452.87L741.05 462.65" stroke="#141414" stroke-width="2.4" stroke-linecap="round" fill="none"/>
<path d="M741.05 452.87L741.05 461.15" stroke="#fff" stroke-width="0.8" stroke-linecap="round" fill="none"/>
<path d="M763.41 465.93L763.41 475.71" stroke="#141414" stroke-width="2.4" stroke-linecap="round" fill="none"/>
<path d="M763.41 465.93L763.41 474.21" stroke="#fff" stroke-width="0.8" stroke-linecap="round" fill="none"/>
<ellipse class="kbi" cx="735.33" cy="471.42" rx="2.3" ry="2"/>
<ellipse class="kbi" cx="759.14" cy="485.32" rx="2.3" ry="2"/>
<ellipse class="kbi" cx="811.96" cy="454.81" rx="2.3" ry="2"/>
<path class="ki" d="M723.49 469.46L762.67 492.34L770.85 487.61L731.67 464.74Z"/>
<path d="M728.64 384.72L728.64 380.15L735.45 369.57L753.17 359.33L760.1 361.98L760.44 366.35L762.72 378.08L760.44 397.65L753.06 408.43L735.45 418.6L728.07 416.34L725.8 399.4ZM732.52 386.99L732.52 382.42L739.34 371.84L757.06 361.6L763.99 364.25L764.33 368.62L766.6 380.35L764.33 399.91L756.95 410.7L739.34 420.87L731.95 418.61L729.68 401.67ZM728.64 384.72L728.64 380.15L732.52 382.42L732.52 386.99ZM728.64 380.15L735.45 369.57L739.34 371.84L732.52 382.42ZM735.45 369.57L753.17 359.33L757.06 361.6L739.34 371.84ZM753.17 359.33L760.1 361.98L763.99 364.25L757.06 361.6ZM763.99 364.25L764.33 368.62L760.44 366.35L760.1 361.98ZM764.33 368.62L766.6 380.35L762.72 378.08L760.44 366.35ZM766.6 380.35L764.33 399.91L760.44 397.65L762.72 378.08ZM764.33 399.91L756.95 410.7L753.06 408.43L760.44 397.65ZM756.95 410.7L739.34 420.87L735.45 418.6L753.06 408.43ZM739.34 420.87L731.95 418.61L728.07 416.34L735.45 418.6ZM728.07 416.34L725.8 399.4L729.68 401.67L731.95 418.61ZM725.8 399.4L728.64 384.72L732.52 386.99L729.68 401.67Z" fill="#fff" stroke="none" fill-rule="nonzero"/>
<path class="ki" d="M728.64 384.72L728.64 380.15L735.45 369.57L753.17 359.33L760.1 361.98M728.07 416.34L725.8 399.4L728.64 384.72M760.1 361.98L763.99 364.25M728.07 416.34L731.95 418.61M732.52 386.99L732.52 382.42L739.34 371.84L757.06 361.6L763.99 364.25L764.33 368.62L766.6 380.35L764.33 399.91L756.95 410.7L739.34 420.87L731.95 418.61L729.68 401.67Z"/>
<path d="M766.11 385.39L765.81 387.69L765.33 390.06L764.65 392.46L763.8 394.87L762.78 397.27L761.59 399.63L760.27 401.92L758.81 404.13L757.23 406.21L755.56 408.16L753.8 409.94L751.99 411.55L750.13 412.96L748.26 414.15L746.38 415.12L744.52 415.86L742.71 416.35L740.95 416.59L739.28 416.57L737.71 416.31L736.25 415.8L734.92 415.04L733.73 414.04L732.71 412.83L731.86 411.4L731.18 409.77L730.7 407.97L730.4 406.01L730.31 403.91L730.4 401.7L730.7 399.4L731.18 397.04L731.86 394.64L732.71 392.22L733.73 389.82L734.92 387.47L736.25 385.17L737.71 382.97L739.28 380.89L740.95 378.94L742.71 377.16L744.52 375.55L746.38 374.14L748.26 372.95L750.13 371.98L751.99 371.24L753.8 370.75L755.56 370.51L757.23 370.52L758.81 370.79L760.27 371.3L761.59 372.06L762.78 373.05L763.8 374.27L764.65 375.7L765.33 377.32L765.81 379.13L766.11 381.09L766.2 383.18ZM772.77 389.28L772.47 391.58L771.99 393.95L771.31 396.35L770.46 398.76L769.44 401.16L768.25 403.52L766.93 405.81L765.47 408.01L763.89 410.1L762.22 412.04L760.46 413.83L758.65 415.44L756.79 416.84L754.92 418.04L753.04 419.01L751.18 419.75L749.37 420.23L747.61 420.47L745.94 420.46L744.37 420.2L742.91 419.68L741.58 418.93L740.39 417.93L739.37 416.71L738.52 415.29L737.84 413.66L737.36 411.86L737.06 409.9L736.97 407.8L737.06 405.59L737.36 403.29L737.84 400.93L738.52 398.53L739.37 396.11L740.39 393.71L741.58 391.35L742.91 389.06L744.37 386.86L745.94 384.78L747.61 382.83L749.37 381.05L751.18 379.44L753.04 378.03L754.92 376.83L756.79 375.86L758.65 375.13L760.46 374.64L762.22 374.4L763.89 374.41L765.47 374.68L766.93 375.19L768.25 375.95L769.44 376.94L770.46 378.16L771.31 379.59L771.99 381.21L772.47 383.02L772.77 384.98L772.86 387.07ZM766.2 383.18L766.11 381.09L772.77 384.98L772.86 387.07ZM766.11 381.09L765.81 379.13L772.47 383.02L772.77 384.98ZM765.81 379.13L765.33 377.32L771.99 381.21L772.47 383.02ZM765.33 377.32L764.65 375.7L771.31 379.59L771.99 381.21ZM764.65 375.7L763.8 374.27L770.46 378.16L771.31 379.59ZM763.8 374.27L762.78 373.05L769.44 376.94L770.46 378.16ZM762.78 373.05L761.59 372.06L768.25 375.95L769.44 376.94ZM768.25 375.95L766.93 375.19L760.27 371.3L761.59 372.06ZM766.93 375.19L765.47 374.68L758.81 370.79L760.27 371.3ZM765.47 374.68L763.89 374.41L757.23 370.52L758.81 370.79ZM763.89 374.41L762.22 374.4L755.56 370.51L757.23 370.52ZM762.22 374.4L760.46 374.64L753.8 370.75L755.56 370.51ZM760.46 374.64L758.65 375.13L751.99 371.24L753.8 370.75ZM758.65 375.13L756.79 375.86L750.13 371.98L751.99 371.24ZM756.79 375.86L754.92 376.83L748.26 372.95L750.13 371.98ZM754.92 376.83L753.04 378.03L746.38 374.14L748.26 372.95ZM753.04 378.03L751.18 379.44L744.52 375.55L746.38 374.14ZM751.18 379.44L749.37 381.05L742.71 377.16L744.52 375.55ZM749.37 381.05L747.61 382.83L740.95 378.94L742.71 377.16ZM747.61 382.83L745.94 384.78L739.28 380.89L740.95 378.94ZM745.94 384.78L744.37 386.86L737.71 382.97L739.28 380.89ZM744.37 386.86L742.91 389.06L736.25 385.17L737.71 382.97ZM742.91 389.06L741.58 391.35L734.92 387.47L736.25 385.17ZM741.58 391.35L740.39 393.71L733.73 389.82L734.92 387.47ZM740.39 393.71L739.37 396.11L732.71 392.22L733.73 389.82ZM739.37 396.11L738.52 398.53L731.86 394.64L732.71 392.22ZM738.52 398.53L737.84 400.93L731.18 397.04L731.86 394.64ZM737.84 400.93L737.36 403.29L730.7 399.4L731.18 397.04ZM737.36 403.29L737.06 405.59L730.4 401.7L730.7 399.4ZM737.06 405.59L736.97 407.8L730.31 403.91L730.4 401.7ZM736.97 407.8L737.06 409.9L730.4 406.01L730.31 403.91ZM737.06 409.9L737.36 411.86L730.7 407.97L730.4 406.01ZM737.36 411.86L737.84 413.66L731.18 409.77L730.7 407.97ZM737.84 413.66L738.52 415.29L731.86 411.4L731.18 409.77ZM738.52 415.29L739.37 416.71L732.71 412.83L731.86 411.4ZM739.37 416.71L740.39 417.93L733.73 414.04L732.71 412.83ZM740.39 417.93L741.58 418.93L734.92 415.04L733.73 414.04ZM734.92 415.04L736.25 415.8L742.91 419.68L741.58 418.93ZM736.25 415.8L737.71 416.31L744.37 420.2L742.91 419.68ZM737.71 416.31L739.28 416.57L745.94 420.46L744.37 420.2ZM739.28 416.57L740.95 416.59L747.61 420.47L745.94 420.46ZM740.95 416.59L742.71 416.35L749.37 420.23L747.61 420.47ZM742.71 416.35L744.52 415.86L751.18 419.75L749.37 420.23ZM744.52 415.86L746.38 415.12L753.04 419.01L751.18 419.75ZM746.38 415.12L748.26 414.15L754.92 418.04L753.04 419.01ZM748.26 414.15L750.13 412.96L756.79 416.84L754.92 418.04ZM750.13 412.96L751.99 411.55L758.65 415.44L756.79 416.84ZM751.99 411.55L753.8 409.94L760.46 413.83L758.65 415.44ZM753.8 409.94L755.56 408.16L762.22 412.04L760.46 413.83ZM755.56 408.16L757.23 406.21L763.89 410.1L762.22 412.04ZM757.23 406.21L758.81 404.13L765.47 408.01L763.89 410.1ZM758.81 404.13L760.27 401.92L766.93 405.81L765.47 408.01ZM760.27 401.92L761.59 399.63L768.25 403.52L766.93 405.81ZM761.59 399.63L762.78 397.27L769.44 401.16L768.25 403.52ZM762.78 397.27L763.8 394.87L770.46 398.76L769.44 401.16ZM763.8 394.87L764.65 392.46L771.31 396.35L770.46 398.76ZM764.65 392.46L765.33 390.06L771.99 393.95L771.31 396.35ZM765.33 390.06L765.81 387.69L772.47 391.58L771.99 393.95ZM765.81 387.69L766.11 385.39L772.77 389.28L772.47 391.58ZM766.11 385.39L766.2 383.18L772.86 387.07L772.77 389.28Z" fill="#fff" stroke="none" fill-rule="nonzero"/>
<path class="ki" d="M760.27 371.3L758.81 370.79L757.23 370.52L755.56 370.51L753.8 370.75L751.99 371.24L750.13 371.98L748.26 372.95L746.38 374.14L744.52 375.55L742.71 377.16L740.95 378.94L739.28 380.89L737.71 382.97L736.25 385.17L734.92 387.47L733.73 389.82L732.71 392.22L731.86 394.64L731.18 397.04L730.7 399.4L730.4 401.7L730.31 403.91L730.4 406.01L730.7 407.97L731.18 409.77L731.86 411.4L732.71 412.83L733.73 414.04L734.92 415.04M760.27 371.3L766.93 375.19M734.92 415.04L741.58 418.93M772.86 387.07L772.77 384.98L772.47 383.02L771.99 381.21L771.31 379.59L770.46 378.16L769.44 376.94L768.25 375.95L766.93 375.19L765.47 374.68L763.89 374.41L762.22 374.4L760.46 374.64L758.65 375.13L756.79 375.86L754.92 376.83L753.04 378.03L751.18 379.44L749.37 381.05L747.61 382.83L745.94 384.78L744.37 386.86L742.91 389.06L741.58 391.35L740.39 393.71L739.37 396.11L738.52 398.53L737.84 400.93L737.36 403.29L737.06 405.59L736.97 407.8L737.06 409.9L737.36 411.86L737.84 413.66L738.52 415.29L739.37 416.71L740.39 417.93L741.58 418.93L742.91 419.68L744.37 420.2L745.94 420.46L747.61 420.47L749.37 420.23L751.18 419.75L753.04 419.01L754.92 418.04L756.79 416.84L758.65 415.44L760.46 413.83L762.22 412.04L763.89 410.1L765.47 408.01L766.93 405.81L768.25 403.52L769.44 401.16L770.46 398.76L771.31 396.35L771.99 393.95L772.47 391.58L772.77 389.28Z"/>
<ellipse class="kbi" cx="739.99" cy="376.91" rx="1.7" ry="2.1"/>
<ellipse class="kbi" cx="758.68" cy="366.12" rx="1.7" ry="2.1"/>
<ellipse class="kbi" cx="736.02" cy="387.49" rx="1.7" ry="2.1"/>
<ellipse class="kbi" cx="762.49" cy="372.2" rx="1.7" ry="2.1"/>
<path class="kwi" d="M742.02 426.07L777.54 446.81L777.54 442.9L742.02 422.16Z"/>
<path class="kwi" d="M777.54 446.81L803.1 432.05L803.1 428.14L777.54 442.9Z"/>
<path d="M769.97 390.02L769.8 391.64L769.51 393.31L769.1 395.01L768.59 396.72L767.97 398.44L767.26 400.15L766.44 401.84L765.54 403.49L764.55 405.1L763.49 406.65L762.36 408.13L761.17 409.52L759.94 410.82L758.66 412.02L757.36 413.11L756.03 414.07L754.69 414.91L753.36 415.62L752.03 416.18L750.72 416.6L749.45 416.88L748.21 417L747.03 416.98L745.9 416.81L744.84 416.49L743.85 416.02L742.95 415.41L742.13 414.66L741.41 413.78L740.79 412.77L740.28 411.65L739.88 410.42L739.59 409.09L739.42 407.66L739.36 406.16L739.42 404.6L739.59 402.97L739.88 401.31L740.28 399.61L740.79 397.89L741.41 396.18L742.13 394.46L742.95 392.78L743.85 391.12L744.84 389.51L745.9 387.97L747.03 386.49L748.21 385.1L749.45 383.79L750.72 382.6L752.03 381.51L753.36 380.54L754.69 379.7L756.03 379L757.36 378.43L758.66 378.01L759.94 377.74L761.17 377.61L762.36 377.63L763.49 377.81L764.55 378.13L765.54 378.6L766.44 379.21L767.26 379.96L767.97 380.84L768.59 381.84L769.1 382.96L769.51 384.2L769.8 385.53L769.97 386.95L770.03 388.45ZM806.16 411.14L805.98 412.77L805.69 414.43L805.29 416.13L804.78 417.85L804.16 419.56L803.44 421.28L802.63 422.96L801.72 424.62L800.74 426.23L799.68 427.77L798.55 429.25L797.36 430.64L796.12 431.95L794.85 433.14L793.54 434.23L792.22 435.2L790.88 436.04L789.54 436.74L788.22 437.31L786.91 437.73L785.63 438L784.4 438.13L783.21 438.11L782.08 437.93L781.02 437.61L780.03 437.14L779.13 436.53L778.32 435.78L777.6 434.9L776.98 433.9L776.47 432.78L776.07 431.54L775.78 430.21L775.6 428.79L775.54 427.29L775.6 425.72L775.78 424.1L776.07 422.43L776.47 420.73L776.98 419.02L777.6 417.3L778.32 415.59L779.13 413.9L780.03 412.25L781.02 410.64L782.08 409.09L783.21 407.61L784.4 406.22L785.63 404.92L786.91 403.72L788.22 402.63L789.54 401.67L790.88 400.83L792.22 400.12L793.54 399.56L794.85 399.14L796.12 398.86L797.36 398.74L798.55 398.76L799.68 398.93L800.74 399.25L801.72 399.72L802.63 400.33L803.44 401.08L804.16 401.96L804.78 402.97L805.29 404.09L805.69 405.32L805.98 406.65L806.16 408.08L806.22 409.58ZM770.03 388.45L769.97 386.95L806.16 408.08L806.22 409.58ZM769.97 386.95L769.8 385.53L805.98 406.65L806.16 408.08ZM769.8 385.53L769.51 384.2L805.69 405.32L805.98 406.65ZM769.51 384.2L769.1 382.96L805.29 404.09L805.69 405.32ZM769.1 382.96L768.59 381.84L804.78 402.97L805.29 404.09ZM768.59 381.84L767.97 380.84L804.16 401.96L804.78 402.97ZM767.97 380.84L767.26 379.96L803.44 401.08L804.16 401.96ZM767.26 379.96L766.44 379.21L802.63 400.33L803.44 401.08ZM766.44 379.21L765.54 378.6L801.72 399.72L802.63 400.33ZM801.72 399.72L800.74 399.25L764.55 378.13L765.54 378.6ZM800.74 399.25L799.68 398.93L763.49 377.81L764.55 378.13ZM799.68 398.93L798.55 398.76L762.36 377.63L763.49 377.81ZM798.55 398.76L797.36 398.74L761.17 377.61L762.36 377.63ZM797.36 398.74L796.12 398.86L759.94 377.74L761.17 377.61ZM796.12 398.86L794.85 399.14L758.66 378.01L759.94 377.74ZM794.85 399.14L793.54 399.56L757.36 378.43L758.66 378.01ZM793.54 399.56L792.22 400.12L756.03 379L757.36 378.43ZM792.22 400.12L790.88 400.83L754.69 379.7L756.03 379ZM790.88 400.83L789.54 401.67L753.36 380.54L754.69 379.7ZM789.54 401.67L788.22 402.63L752.03 381.51L753.36 380.54ZM788.22 402.63L786.91 403.72L750.72 382.6L752.03 381.51ZM786.91 403.72L785.63 404.92L749.45 383.79L750.72 382.6ZM785.63 404.92L784.4 406.22L748.21 385.1L749.45 383.79ZM784.4 406.22L783.21 407.61L747.03 386.49L748.21 385.1ZM783.21 407.61L782.08 409.09L745.9 387.97L747.03 386.49ZM782.08 409.09L781.02 410.64L744.84 389.51L745.9 387.97ZM781.02 410.64L780.03 412.25L743.85 391.12L744.84 389.51ZM780.03 412.25L779.13 413.9L742.95 392.78L743.85 391.12ZM779.13 413.9L778.32 415.59L742.13 394.46L742.95 392.78ZM778.32 415.59L777.6 417.3L741.41 396.18L742.13 394.46ZM777.6 417.3L776.98 419.02L740.79 397.89L741.41 396.18ZM776.98 419.02L776.47 420.73L740.28 399.61L740.79 397.89ZM776.47 420.73L776.07 422.43L739.88 401.31L740.28 399.61ZM776.07 422.43L775.78 424.1L739.59 402.97L739.88 401.31ZM775.78 424.1L775.6 425.72L739.42 404.6L739.59 402.97ZM775.6 425.72L775.54 427.29L739.36 406.16L739.42 404.6ZM775.54 427.29L775.6 428.79L739.42 407.66L739.36 406.16ZM775.6 428.79L775.78 430.21L739.59 409.09L739.42 407.66ZM775.78 430.21L776.07 431.54L739.88 410.42L739.59 409.09ZM776.07 431.54L776.47 432.78L740.28 411.65L739.88 410.42ZM776.47 432.78L776.98 433.9L740.79 412.77L740.28 411.65ZM776.98 433.9L777.6 434.9L741.41 413.78L740.79 412.77ZM777.6 434.9L778.32 435.78L742.13 414.66L741.41 413.78ZM778.32 435.78L779.13 436.53L742.95 415.41L742.13 414.66ZM779.13 436.53L780.03 437.14L743.85 416.02L742.95 415.41ZM743.85 416.02L744.84 416.49L781.02 437.61L780.03 437.14ZM744.84 416.49L745.9 416.81L782.08 437.93L781.02 437.61ZM745.9 416.81L747.03 416.98L783.21 438.11L782.08 437.93ZM747.03 416.98L748.21 417L784.4 438.13L783.21 438.11ZM748.21 417L749.45 416.88L785.63 438L784.4 438.13ZM749.45 416.88L750.72 416.6L786.91 437.73L785.63 438ZM750.72 416.6L752.03 416.18L788.22 437.31L786.91 437.73ZM752.03 416.18L753.36 415.62L789.54 436.74L788.22 437.31ZM753.36 415.62L754.69 414.91L790.88 436.04L789.54 436.74ZM754.69 414.91L756.03 414.07L792.22 435.2L790.88 436.04ZM756.03 414.07L757.36 413.11L793.54 434.23L792.22 435.2ZM757.36 413.11L758.66 412.02L794.85 433.14L793.54 434.23ZM758.66 412.02L759.94 410.82L796.12 431.95L794.85 433.14ZM759.94 410.82L761.17 409.52L797.36 430.64L796.12 431.95ZM761.17 409.52L762.36 408.13L798.55 429.25L797.36 430.64ZM762.36 408.13L763.49 406.65L799.68 427.77L798.55 429.25ZM763.49 406.65L764.55 405.1L800.74 426.23L799.68 427.77ZM764.55 405.1L765.54 403.49L801.72 424.62L800.74 426.23ZM765.54 403.49L766.44 401.84L802.63 422.96L801.72 424.62ZM766.44 401.84L767.26 400.15L803.44 421.28L802.63 422.96ZM767.26 400.15L767.97 398.44L804.16 419.56L803.44 421.28ZM767.97 398.44L768.59 396.72L804.78 417.85L804.16 419.56ZM768.59 396.72L769.1 395.01L805.29 416.13L804.78 417.85ZM769.1 395.01L769.51 393.31L805.69 414.43L805.29 416.13ZM769.51 393.31L769.8 391.64L805.98 412.77L805.69 414.43ZM769.8 391.64L769.97 390.02L806.16 411.14L805.98 412.77ZM769.97 390.02L770.03 388.45L806.22 409.58L806.16 411.14Z" fill="#fff" stroke="none" fill-rule="nonzero"/>
<path class="ki" d="M765.54 378.6L764.55 378.13L763.49 377.81L762.36 377.63L761.17 377.61L759.94 377.74L758.66 378.01L757.36 378.43L756.03 379L754.69 379.7L753.36 380.54L752.03 381.51L750.72 382.6L749.45 383.79L748.21 385.1L747.03 386.49L745.9 387.97L744.84 389.51L743.85 391.12L742.95 392.78L742.13 394.46L741.41 396.18L740.79 397.89L740.28 399.61L739.88 401.31L739.59 402.97L739.42 404.6L739.36 406.16L739.42 407.66L739.59 409.09L739.88 410.42L740.28 411.65L740.79 412.77L741.41 413.78L742.13 414.66L742.95 415.41L743.85 416.02M765.54 378.6L801.72 399.72M743.85 416.02L780.03 437.14M806.22 409.58L806.16 408.08L805.98 406.65L805.69 405.32L805.29 404.09L804.78 402.97L804.16 401.96L803.44 401.08L802.63 400.33L801.72 399.72L800.74 399.25L799.68 398.93L798.55 398.76L797.36 398.74L796.12 398.86L794.85 399.14L793.54 399.56L792.22 400.12L790.88 400.83L789.54 401.67L788.22 402.63L786.91 403.72L785.63 404.92L784.4 406.22L783.21 407.61L782.08 409.09L781.02 410.64L780.03 412.25L779.13 413.9L778.32 415.59L777.6 417.3L776.98 419.02L776.47 420.73L776.07 422.43L775.78 424.1L775.6 425.72L775.54 427.29L775.6 428.79L775.78 430.21L776.07 431.54L776.47 432.78L776.98 433.9L777.6 434.9L778.32 435.78L779.13 436.53L780.03 437.14L781.02 437.61L782.08 437.93L783.21 438.11L784.4 438.13L785.63 438L786.91 437.73L788.22 437.31L789.54 436.74L790.88 436.04L792.22 435.2L793.54 434.23L794.85 433.14L796.12 431.95L797.36 430.64L798.55 429.25L799.68 427.77L800.74 426.23L801.72 424.62L802.63 422.96L803.44 421.28L804.16 419.56L804.78 417.85L805.29 416.13L805.69 414.43L805.98 412.77L806.16 411.14Z"/>
<path d="M765.49 377.57L801.18 398.4" stroke="#141414" stroke-width="1.5" fill="none"/>
<path d="M762.46 377.02L798.15 397.85" stroke="#141414" stroke-width="1.5" fill="none"/>
<path d="M759.07 377.52L794.75 398.35" stroke="#141414" stroke-width="1.5" fill="none"/>
<path d="M755.47 379.05L791.16 399.89" stroke="#141414" stroke-width="1.5" fill="none"/>
<path d="M751.86 381.54L787.55 402.37" stroke="#141414" stroke-width="1.5" fill="none"/>
<path d="M748.42 384.84L784.11 405.68" stroke="#141414" stroke-width="1.5" fill="none"/>
<path d="M745.33 388.81L781.02 409.64" stroke="#141414" stroke-width="1.5" fill="none"/>
<path d="M742.74 393.22L778.43 414.05" stroke="#141414" stroke-width="1.5" fill="none"/>
<path d="M740.8 397.85L776.48 418.69" stroke="#141414" stroke-width="1.5" fill="none"/>
<path d="M739.59 402.48L775.27 423.31" stroke="#141414" stroke-width="1.5" fill="none"/>
<path d="M739.17 406.85L774.86 427.68" stroke="#141414" stroke-width="1.5" fill="none"/>
<path d="M739.59 410.75L775.27 431.58" stroke="#141414" stroke-width="1.5" fill="none"/>
<path d="M740.8 413.97L776.48 434.81" stroke="#141414" stroke-width="1.5" fill="none"/>
<path d="M742.74 416.36L778.43 437.19" stroke="#141414" stroke-width="1.5" fill="none"/>
<path class="kwi" d="M733.25 413.06L744.66 406.47L760.04 415.44L748.62 422.04Z"/>
<path class="kwi" d="M733.25 432.1L748.62 441.08L748.62 422.04L733.25 413.06Z"/>
<path class="kwi" d="M748.62 441.08L760.04 434.48L760.04 415.44L748.62 422.04Z"/>
<path class="kit" d="M735.49 413.05L744.64 407.77L757.79 415.45L748.65 420.73Z"/>
<path class="kwi" d="M762 415.2L765.4 414.4L760 442L756.8 441.4Z"/>
<ellipse class="kbi" cx="767.6" cy="439.8" rx="2" ry="1.8"/>
<ellipse class="kit" cx="773.4" cy="444" rx="1.2" ry="0.9"/>
<path class="ki" d="M761.5 436L767 433.2L781.5 441.6L776 444.6Z"/>
<path d="M809.55 409.52L809.34 411.51L808.98 413.55L808.49 415.62L807.87 417.72L807.11 419.82L806.23 421.91L805.24 423.97L804.13 425.99L802.93 427.96L801.63 429.85L800.25 431.65L798.8 433.36L797.29 434.95L795.73 436.41L794.13 437.74L792.51 438.92L790.88 439.95L789.25 440.81L787.62 441.5L786.03 442.02L784.47 442.35L782.96 442.51L781.51 442.48L780.13 442.27L778.83 441.87L777.63 441.3L776.52 440.55L775.52 439.64L774.65 438.56L773.89 437.34L773.27 435.96L772.77 434.46L772.42 432.83L772.21 431.09L772.14 429.26L772.21 427.34L772.42 425.36L772.77 423.32L773.27 421.24L773.89 419.15L774.65 417.05L775.52 414.96L776.52 412.89L777.63 410.87L778.83 408.91L780.13 407.02L781.51 405.21L782.96 403.51L784.47 401.92L786.03 400.45L787.62 399.12L789.25 397.94L790.88 396.92L792.51 396.05L794.13 395.36L795.73 394.85L797.29 394.51L798.8 394.36L800.25 394.39L801.63 394.6L802.93 394.99L804.13 395.56L805.24 396.31L806.23 397.22L807.11 398.3L807.87 399.53L808.49 400.9L808.98 402.41L809.34 404.04L809.55 405.77L809.62 407.61ZM823.26 417.53L823.05 419.51L822.69 421.55L822.2 423.62L821.58 425.72L820.82 427.82L819.94 429.91L818.95 431.97L817.84 434L816.64 435.96L815.34 437.85L813.96 439.66L812.51 441.36L811 442.95L809.44 444.42L807.84 445.74L806.22 446.93L804.59 447.95L802.95 448.81L801.33 449.5L799.74 450.02L798.18 450.36L796.67 450.51L795.22 450.48L793.84 450.27L792.54 449.87L791.33 449.3L790.23 448.56L789.23 447.64L788.35 446.57L787.6 445.34L786.97 443.97L786.48 442.46L786.13 440.83L785.91 439.09L785.84 437.26L785.91 435.34L786.13 433.36L786.48 431.32L786.97 429.25L787.6 427.15L788.35 425.05L789.23 422.96L790.23 420.9L791.33 418.87L792.54 416.91L793.84 415.02L795.22 413.21L796.67 411.51L798.18 409.92L799.74 408.45L801.33 407.13L802.95 405.94L804.59 404.92L806.22 404.06L807.84 403.37L809.44 402.85L811 402.51L812.51 402.36L813.96 402.39L815.34 402.6L816.64 403L817.84 403.57L818.95 404.31L819.94 405.23L820.82 406.3L821.58 407.53L822.2 408.91L822.69 410.41L823.05 412.04L823.26 413.78L823.33 415.61ZM809.62 407.61L809.55 405.77L823.26 413.78L823.33 415.61ZM809.55 405.77L809.34 404.04L823.05 412.04L823.26 413.78ZM809.34 404.04L808.98 402.41L822.69 410.41L823.05 412.04ZM808.98 402.41L808.49 400.9L822.2 408.91L822.69 410.41ZM808.49 400.9L807.87 399.53L821.58 407.53L822.2 408.91ZM807.87 399.53L807.11 398.3L820.82 406.3L821.58 407.53ZM807.11 398.3L806.23 397.22L819.94 405.23L820.82 406.3ZM806.23 397.22L805.24 396.31L818.95 404.31L819.94 405.23ZM805.24 396.31L804.13 395.56L817.84 403.57L818.95 404.31ZM817.84 403.57L816.64 403L802.93 394.99L804.13 395.56ZM816.64 403L815.34 402.6L801.63 394.6L802.93 394.99ZM815.34 402.6L813.96 402.39L800.25 394.39L801.63 394.6ZM813.96 402.39L812.51 402.36L798.8 394.36L800.25 394.39ZM812.51 402.36L811 402.51L797.29 394.51L798.8 394.36ZM811 402.51L809.44 402.85L795.73 394.85L797.29 394.51ZM809.44 402.85L807.84 403.37L794.13 395.36L795.73 394.85ZM807.84 403.37L806.22 404.06L792.51 396.05L794.13 395.36ZM806.22 404.06L804.59 404.92L790.88 396.92L792.51 396.05ZM804.59 404.92L802.95 405.94L789.25 397.94L790.88 396.92ZM802.95 405.94L801.33 407.13L787.62 399.12L789.25 397.94ZM801.33 407.13L799.74 408.45L786.03 400.45L787.62 399.12ZM799.74 408.45L798.18 409.92L784.47 401.92L786.03 400.45ZM798.18 409.92L796.67 411.51L782.96 403.51L784.47 401.92ZM796.67 411.51L795.22 413.21L781.51 405.21L782.96 403.51ZM795.22 413.21L793.84 415.02L780.13 407.02L781.51 405.21ZM793.84 415.02L792.54 416.91L778.83 408.91L780.13 407.02ZM792.54 416.91L791.33 418.87L777.63 410.87L778.83 408.91ZM791.33 418.87L790.23 420.9L776.52 412.89L777.63 410.87ZM790.23 420.9L789.23 422.96L775.52 414.96L776.52 412.89ZM789.23 422.96L788.35 425.05L774.65 417.05L775.52 414.96ZM788.35 425.05L787.6 427.15L773.89 419.15L774.65 417.05ZM787.6 427.15L786.97 429.25L773.27 421.24L773.89 419.15ZM786.97 429.25L786.48 431.32L772.77 423.32L773.27 421.24ZM786.48 431.32L786.13 433.36L772.42 425.36L772.77 423.32ZM786.13 433.36L785.91 435.34L772.21 427.34L772.42 425.36ZM785.91 435.34L785.84 437.26L772.14 429.26L772.21 427.34ZM785.84 437.26L785.91 439.09L772.21 431.09L772.14 429.26ZM785.91 439.09L786.13 440.83L772.42 432.83L772.21 431.09ZM786.13 440.83L786.48 442.46L772.77 434.46L772.42 432.83ZM786.48 442.46L786.97 443.97L773.27 435.96L772.77 434.46ZM786.97 443.97L787.6 445.34L773.89 437.34L773.27 435.96ZM787.6 445.34L788.35 446.57L774.65 438.56L773.89 437.34ZM788.35 446.57L789.23 447.64L775.52 439.64L774.65 438.56ZM789.23 447.64L790.23 448.56L776.52 440.55L775.52 439.64ZM790.23 448.56L791.33 449.3L777.63 441.3L776.52 440.55ZM777.63 441.3L778.83 441.87L792.54 449.87L791.33 449.3ZM778.83 441.87L780.13 442.27L793.84 450.27L792.54 449.87ZM780.13 442.27L781.51 442.48L795.22 450.48L793.84 450.27ZM781.51 442.48L782.96 442.51L796.67 450.51L795.22 450.48ZM782.96 442.51L784.47 442.35L798.18 450.36L796.67 450.51ZM784.47 442.35L786.03 442.02L799.74 450.02L798.18 450.36ZM786.03 442.02L787.62 441.5L801.33 449.5L799.74 450.02ZM787.62 441.5L789.25 440.81L802.95 448.81L801.33 449.5ZM789.25 440.81L790.88 439.95L804.59 447.95L802.95 448.81ZM790.88 439.95L792.51 438.92L806.22 446.93L804.59 447.95ZM792.51 438.92L794.13 437.74L807.84 445.74L806.22 446.93ZM794.13 437.74L795.73 436.41L809.44 444.42L807.84 445.74ZM795.73 436.41L797.29 434.95L811 442.95L809.44 444.42ZM797.29 434.95L798.8 433.36L812.51 441.36L811 442.95ZM798.8 433.36L800.25 431.65L813.96 439.66L812.51 441.36ZM800.25 431.65L801.63 429.85L815.34 437.85L813.96 439.66ZM801.63 429.85L802.93 427.96L816.64 435.96L815.34 437.85ZM802.93 427.96L804.13 425.99L817.84 434L816.64 435.96ZM804.13 425.99L805.24 423.97L818.95 431.97L817.84 434ZM805.24 423.97L806.23 421.91L819.94 429.91L818.95 431.97ZM806.23 421.91L807.11 419.82L820.82 427.82L819.94 429.91ZM807.11 419.82L807.87 417.72L821.58 425.72L820.82 427.82ZM807.87 417.72L808.49 415.62L822.2 423.62L821.58 425.72ZM808.49 415.62L808.98 413.55L822.69 421.55L822.2 423.62ZM808.98 413.55L809.34 411.51L823.05 419.51L822.69 421.55ZM809.34 411.51L809.55 409.52L823.26 417.53L823.05 419.51ZM809.55 409.52L809.62 407.61L823.33 415.61L823.26 417.53Z" fill="#fff" stroke="none" fill-rule="nonzero"/>
<path class="ki" d="M804.13 395.56L802.93 394.99L801.63 394.6L800.25 394.39L798.8 394.36L797.29 394.51L795.73 394.85L794.13 395.36L792.51 396.05L790.88 396.92L789.25 397.94L787.62 399.12L786.03 400.45L784.47 401.92L782.96 403.51L781.51 405.21L780.13 407.02L778.83 408.91L777.63 410.87L776.52 412.89L775.52 414.96L774.65 417.05L773.89 419.15L773.27 421.24L772.77 423.32L772.42 425.36L772.21 427.34L772.14 429.26L772.21 431.09L772.42 432.83L772.77 434.46L773.27 435.96L773.89 437.34L774.65 438.56L775.52 439.64L776.52 440.55L777.63 441.3M804.13 395.56L817.84 403.57M777.63 441.3L791.33 449.3M823.33 415.61L823.26 413.78L823.05 412.04L822.69 410.41L822.2 408.91L821.58 407.53L820.82 406.3L819.94 405.23L818.95 404.31L817.84 403.57L816.64 403L815.34 402.6L813.96 402.39L812.51 402.36L811 402.51L809.44 402.85L807.84 403.37L806.22 404.06L804.59 404.92L802.95 405.94L801.33 407.13L799.74 408.45L798.18 409.92L796.67 411.51L795.22 413.21L793.84 415.02L792.54 416.91L791.33 418.87L790.23 420.9L789.23 422.96L788.35 425.05L787.6 427.15L786.97 429.25L786.48 431.32L786.13 433.36L785.91 435.34L785.84 437.26L785.91 439.09L786.13 440.83L786.48 442.46L786.97 443.97L787.6 445.34L788.35 446.57L789.23 447.64L790.23 448.56L791.33 449.3L792.54 449.87L793.84 450.27L795.22 450.48L796.67 450.51L798.18 450.36L799.74 450.02L801.33 449.5L802.95 448.81L804.59 447.95L806.22 446.93L807.84 445.74L809.44 444.42L811 442.95L812.51 441.36L813.96 439.66L815.34 437.85L816.64 435.96L817.84 434L818.95 431.97L819.94 429.91L820.82 427.82L821.58 425.72L822.2 423.62L822.69 421.55L823.05 419.51L823.26 417.53Z"/>
<path class="ki" d="M820.98 420.84L820.93 419.56L820.78 418.35L820.54 417.21L820.19 416.16L819.76 415.2L819.23 414.35L818.62 413.6L817.93 412.96L817.16 412.44L816.31 412.04L815.41 411.77L814.45 411.62L813.44 411.6L812.39 411.71L811.3 411.94L810.19 412.3L809.06 412.78L807.92 413.38L806.78 414.1L805.65 414.92L804.54 415.85L803.45 416.87L802.4 417.98L801.39 419.16L800.42 420.42L799.52 421.74L798.68 423.11L797.91 424.52L797.22 425.96L796.6 427.41L796.08 428.88L795.64 430.34L795.3 431.78L795.05 433.2L794.9 434.59L794.85 435.92L794.9 437.2L795.05 438.41L795.3 439.55L795.64 440.6L796.08 441.55L796.6 442.41L797.22 443.16L797.91 443.8L798.68 444.32L799.52 444.72L800.42 444.99L801.39 445.14L802.4 445.16L803.45 445.05L804.54 444.82L805.65 444.46L806.78 443.98L807.92 443.38L809.06 442.66L810.19 441.84L811.3 440.91L812.39 439.89L813.44 438.78L814.45 437.59L815.41 436.34L816.31 435.02L817.16 433.65L817.93 432.24L818.62 430.8L819.23 429.34L819.76 427.88L820.19 426.42L820.54 424.97L820.78 423.55L820.93 422.17Z"/>
<path class="kit" d="M821.66 420.44L821.61 419.1L821.45 417.82L821.19 416.63L820.83 415.52L820.38 414.52L819.82 413.62L819.18 412.83L818.45 412.16L817.64 411.61L816.75 411.19L815.8 410.9L814.79 410.75L813.73 410.72L812.62 410.84L811.48 411.08L810.3 411.46L809.12 411.97L807.92 412.6L806.72 413.35L805.53 414.22L804.36 415.19L803.22 416.27L802.11 417.43L801.04 418.68L800.03 420.01L799.08 421.39L798.2 422.83L797.39 424.32L796.66 425.83L796.01 427.36L795.46 428.9L795 430.44L794.64 431.96L794.38 433.46L794.22 434.91L794.17 436.32L794.22 437.66L794.38 438.94L794.64 440.13L795 441.23L795.46 442.24L796.01 443.14L796.66 443.93L797.39 444.6L798.2 445.15L799.08 445.57L800.03 445.86L801.04 446.01L802.11 446.03L803.22 445.92L804.36 445.67L805.53 445.3L806.72 444.79L807.92 444.16L809.12 443.41L810.3 442.54L811.48 441.57L812.62 440.49L813.73 439.32L814.79 438.07L815.8 436.75L816.75 435.36L817.64 433.92L818.45 432.44L819.18 430.93L819.82 429.39L820.38 427.85L820.83 426.32L821.19 424.8L821.45 423.3L821.61 421.85Z"/>
<defs><filter id="sf" x="-5%" y="-5%" width="110%" height="110%"><feGaussianBlur stdDeviation="0.6"/></filter></defs><g style="mix-blend-mode:multiply" filter="url(#sf)">
<defs><linearGradient id="rg" gradientUnits="userSpaceOnUse" x1="0" y1="172" x2="0" y2="418">
<stop offset="0" stop-color="#a7c0e8"/>
<stop offset="0.2" stop-color="#a7c0e8"/>
<stop offset="0.365" stop-color="#cbe1f5"/>
<stop offset="0.48" stop-color="#e9f7fd"/>
<stop offset="0.61" stop-color="#cbe1f5"/>
<stop offset="0.755" stop-color="#a7c0e8"/>
<stop offset="1" stop-color="#a7c0e8"/>
</linearGradient></defs>
<path fill="url(#rg)" fill-rule="evenodd" d="M246.6 295a184 122.4 0 1 0 368 0a184 122.4 0 1 0 -368 0ZM294.7 294.2a135.4 80.4 0 1 0 270.8 0a135.4 80.4 0 1 0 -270.8 0Z"/>
<text transform="translate(346 289) skewX(-10)" style="font-family:'Liberation Serif',serif;font-style:italic;fill:#a7c0e8"><tspan style="font-size:93px">S</tspan><tspan x="50.5" y="-1.5" textLength="131" lengthAdjust="spacingAndGlyphs" style="font-size:54px;font-weight:bold">ichenz</tspan></text>
<text transform="translate(369 348.5) skewX(-6)" style="font-family:'Liberation Serif','Noto Serif CJK SC',serif;font-weight:600;font-size:52px;fill:#a7c0e8"><tspan>盛</tspan><tspan dx="10" dy="-3" style="font-size:49px">馳</tspan></text>
<text x="607.9" y="236.9" style="font-family:'DejaVu Serif','Liberation Serif',serif;font-size:61.5px;fill:#a7c0e8;stroke:#a7c0e8;stroke-width:1.1px;stroke-linejoin:round">®</text>
</g>
</svg>
</body></html>
